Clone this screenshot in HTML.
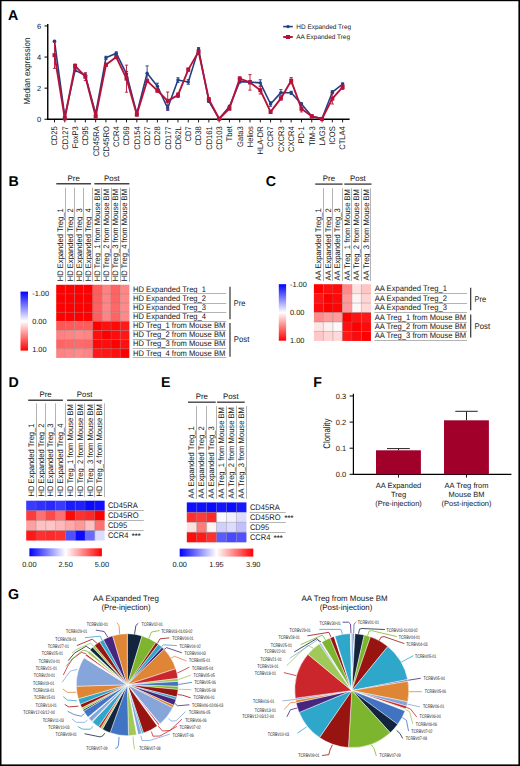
<!DOCTYPE html>
<html><head><meta charset="utf-8"><title>Figure</title><style>
html,body{margin:0;padding:0;background:#fff;}
svg{display:block;font-family:"Liberation Sans", sans-serif;text-rendering:geometricPrecision;}

</style></head><body>
<svg width="520" height="766" viewBox="0 0 520 766">
<rect width="520" height="766" fill="#fff"/>
<rect x="0" y="0" width="520" height="1.2" fill="#000"/>
<rect x="0" y="0" width="1.5" height="766" fill="#000"/>
<rect x="518.4" y="0" width="1.6" height="766" fill="#000"/>
<rect x="0" y="764.4" width="520" height="1.6" fill="#000"/>
<text x="8.1" y="19.6" font-size="14.2" font-weight="bold" fill="#000">A</text>
<line x1="47.75" y1="23.9" x2="47.75" y2="120.0" stroke="#000" stroke-width="1.4"/>
<line x1="47.05" y1="119.25" x2="349.6" y2="119.25" stroke="#000" stroke-width="1.5"/>
<line x1="44.5" y1="119.25" x2="47.75" y2="119.25" stroke="#000" stroke-width="1"/>
<text x="41.2" y="121.85" font-size="7.5" text-anchor="end" fill="#151515">0</text>
<line x1="44.5" y1="88.15" x2="47.75" y2="88.15" stroke="#000" stroke-width="1"/>
<text x="41.2" y="90.75" font-size="7.5" text-anchor="end" fill="#151515">2</text>
<line x1="44.5" y1="57.05" x2="47.75" y2="57.05" stroke="#000" stroke-width="1"/>
<text x="41.2" y="59.65" font-size="7.5" text-anchor="end" fill="#151515">4</text>
<line x1="44.5" y1="25.95" x2="47.75" y2="25.95" stroke="#000" stroke-width="1"/>
<text x="41.2" y="28.55" font-size="7.5" text-anchor="end" fill="#151515">6</text>
<text transform="translate(29.9,71) rotate(-90)" font-size="8.9" text-anchor="middle" fill="#151515" textLength="66.8" lengthAdjust="spacingAndGlyphs">Median expression</text>
<line x1="54.50" y1="119.25" x2="54.50" y2="122.4" stroke="#000" stroke-width="0.9"/>
<text transform="translate(57.35,126.2) rotate(-90)" font-size="8.2" text-anchor="end" fill="#151515" textLength="19.43" lengthAdjust="spacingAndGlyphs">CD25</text>
<line x1="64.79" y1="119.25" x2="64.79" y2="122.4" stroke="#000" stroke-width="0.9"/>
<text transform="translate(67.64,126.2) rotate(-90)" font-size="8.2" text-anchor="end" fill="#151515" textLength="23.66" lengthAdjust="spacingAndGlyphs">CD127</text>
<line x1="75.08" y1="119.25" x2="75.08" y2="122.4" stroke="#000" stroke-width="0.9"/>
<text transform="translate(77.93,126.2) rotate(-90)" font-size="8.2" text-anchor="end" fill="#151515" textLength="21.97" lengthAdjust="spacingAndGlyphs">FoxP3</text>
<line x1="85.37" y1="119.25" x2="85.37" y2="122.4" stroke="#000" stroke-width="0.9"/>
<text transform="translate(88.22,126.2) rotate(-90)" font-size="8.2" text-anchor="end" fill="#151515" textLength="19.43" lengthAdjust="spacingAndGlyphs">CD95</text>
<line x1="95.66" y1="119.25" x2="95.66" y2="122.4" stroke="#000" stroke-width="0.9"/>
<text transform="translate(98.51,126.2) rotate(-90)" font-size="8.2" text-anchor="end" fill="#151515" textLength="29.99" lengthAdjust="spacingAndGlyphs">CD45RA</text>
<line x1="105.95" y1="119.25" x2="105.95" y2="122.4" stroke="#000" stroke-width="0.9"/>
<text transform="translate(108.80,126.2) rotate(-90)" font-size="8.2" text-anchor="end" fill="#151515" textLength="30.83" lengthAdjust="spacingAndGlyphs">CD45RO</text>
<line x1="116.24" y1="119.25" x2="116.24" y2="122.4" stroke="#000" stroke-width="0.9"/>
<text transform="translate(119.09,126.2) rotate(-90)" font-size="8.2" text-anchor="end" fill="#151515" textLength="20.69" lengthAdjust="spacingAndGlyphs">CCR4</text>
<line x1="126.53" y1="119.25" x2="126.53" y2="122.4" stroke="#000" stroke-width="0.9"/>
<text transform="translate(129.38,126.2) rotate(-90)" font-size="8.2" text-anchor="end" fill="#151515" textLength="19.43" lengthAdjust="spacingAndGlyphs">CD69</text>
<line x1="136.82" y1="119.25" x2="136.82" y2="122.4" stroke="#000" stroke-width="0.9"/>
<text transform="translate(139.67,126.2) rotate(-90)" font-size="8.2" text-anchor="end" fill="#151515" textLength="23.66" lengthAdjust="spacingAndGlyphs">CD154</text>
<line x1="147.11" y1="119.25" x2="147.11" y2="122.4" stroke="#000" stroke-width="0.9"/>
<text transform="translate(149.96,126.2) rotate(-90)" font-size="8.2" text-anchor="end" fill="#151515" textLength="19.43" lengthAdjust="spacingAndGlyphs">CD27</text>
<line x1="157.40" y1="119.25" x2="157.40" y2="122.4" stroke="#000" stroke-width="0.9"/>
<text transform="translate(160.25,126.2) rotate(-90)" font-size="8.2" text-anchor="end" fill="#151515" textLength="19.43" lengthAdjust="spacingAndGlyphs">CD28</text>
<line x1="167.69" y1="119.25" x2="167.69" y2="122.4" stroke="#000" stroke-width="0.9"/>
<text transform="translate(170.54,126.2) rotate(-90)" font-size="8.2" text-anchor="end" fill="#151515" textLength="23.66" lengthAdjust="spacingAndGlyphs">CD177</text>
<line x1="177.98" y1="119.25" x2="177.98" y2="122.4" stroke="#000" stroke-width="0.9"/>
<text transform="translate(180.83,126.2) rotate(-90)" font-size="8.2" text-anchor="end" fill="#151515" textLength="23.66" lengthAdjust="spacingAndGlyphs">CD62L</text>
<line x1="188.27" y1="119.25" x2="188.27" y2="122.4" stroke="#000" stroke-width="0.9"/>
<text transform="translate(191.12,126.2) rotate(-90)" font-size="8.2" text-anchor="end" fill="#151515" textLength="15.20" lengthAdjust="spacingAndGlyphs">CD7</text>
<line x1="198.56" y1="119.25" x2="198.56" y2="122.4" stroke="#000" stroke-width="0.9"/>
<text transform="translate(201.41,126.2) rotate(-90)" font-size="8.2" text-anchor="end" fill="#151515" textLength="19.43" lengthAdjust="spacingAndGlyphs">CD38</text>
<line x1="208.85" y1="119.25" x2="208.85" y2="122.4" stroke="#000" stroke-width="0.9"/>
<text transform="translate(211.70,126.2) rotate(-90)" font-size="8.2" text-anchor="end" fill="#151515" textLength="23.66" lengthAdjust="spacingAndGlyphs">CD161</text>
<line x1="219.14" y1="119.25" x2="219.14" y2="122.4" stroke="#000" stroke-width="0.9"/>
<text transform="translate(221.99,126.2) rotate(-90)" font-size="8.2" text-anchor="end" fill="#151515" textLength="23.66" lengthAdjust="spacingAndGlyphs">CD103</text>
<line x1="229.43" y1="119.25" x2="229.43" y2="122.4" stroke="#000" stroke-width="0.9"/>
<text transform="translate(232.28,126.2) rotate(-90)" font-size="8.2" text-anchor="end" fill="#151515" textLength="15.21" lengthAdjust="spacingAndGlyphs">Tbet</text>
<line x1="239.72" y1="119.25" x2="239.72" y2="122.4" stroke="#000" stroke-width="0.9"/>
<text transform="translate(242.57,126.2) rotate(-90)" font-size="8.2" text-anchor="end" fill="#151515" textLength="20.70" lengthAdjust="spacingAndGlyphs">Gata3</text>
<line x1="250.01" y1="119.25" x2="250.01" y2="122.4" stroke="#000" stroke-width="0.9"/>
<text transform="translate(252.86,126.2) rotate(-90)" font-size="8.2" text-anchor="end" fill="#151515" textLength="21.12" lengthAdjust="spacingAndGlyphs">Helios</text>
<line x1="260.30" y1="119.25" x2="260.30" y2="122.4" stroke="#000" stroke-width="0.9"/>
<text transform="translate(263.15,126.2) rotate(-90)" font-size="8.2" text-anchor="end" fill="#151515" textLength="28.29" lengthAdjust="spacingAndGlyphs">HLA-DR</text>
<line x1="270.59" y1="119.25" x2="270.59" y2="122.4" stroke="#000" stroke-width="0.9"/>
<text transform="translate(273.44,126.2) rotate(-90)" font-size="8.2" text-anchor="end" fill="#151515" textLength="20.69" lengthAdjust="spacingAndGlyphs">CCR7</text>
<line x1="280.88" y1="119.25" x2="280.88" y2="122.4" stroke="#000" stroke-width="0.9"/>
<text transform="translate(283.73,126.2) rotate(-90)" font-size="8.2" text-anchor="end" fill="#151515" textLength="25.76" lengthAdjust="spacingAndGlyphs">CXCR3</text>
<line x1="291.17" y1="119.25" x2="291.17" y2="122.4" stroke="#000" stroke-width="0.9"/>
<text transform="translate(294.02,126.2) rotate(-90)" font-size="8.2" text-anchor="end" fill="#151515" textLength="25.76" lengthAdjust="spacingAndGlyphs">CXCR4</text>
<line x1="301.46" y1="119.25" x2="301.46" y2="122.4" stroke="#000" stroke-width="0.9"/>
<text transform="translate(304.31,126.2) rotate(-90)" font-size="8.2" text-anchor="end" fill="#151515" textLength="17.32" lengthAdjust="spacingAndGlyphs">PD-1</text>
<line x1="311.75" y1="119.25" x2="311.75" y2="122.4" stroke="#000" stroke-width="0.9"/>
<text transform="translate(314.60,126.2) rotate(-90)" font-size="8.2" text-anchor="end" fill="#151515" textLength="19.84" lengthAdjust="spacingAndGlyphs">TIM-3</text>
<line x1="322.04" y1="119.25" x2="322.04" y2="122.4" stroke="#000" stroke-width="0.9"/>
<text transform="translate(324.89,126.2) rotate(-90)" font-size="8.2" text-anchor="end" fill="#151515" textLength="19.43" lengthAdjust="spacingAndGlyphs">LAG3</text>
<line x1="332.33" y1="119.25" x2="332.33" y2="122.4" stroke="#000" stroke-width="0.9"/>
<text transform="translate(335.18,126.2) rotate(-90)" font-size="8.2" text-anchor="end" fill="#151515" textLength="18.58" lengthAdjust="spacingAndGlyphs">ICOS</text>
<line x1="342.62" y1="119.25" x2="342.62" y2="122.4" stroke="#000" stroke-width="0.9"/>
<text transform="translate(345.47,126.2) rotate(-90)" font-size="8.2" text-anchor="end" fill="#151515" textLength="23.65" lengthAdjust="spacingAndGlyphs">CTLA4</text>
<path d="M54.50 40.41V41.97M52.90 40.41H56.10M52.90 41.97H56.10" stroke="#223f86" stroke-width="0.9" fill="none"/>
<path d="M64.79 115.05V118.16M63.19 115.05H66.39M63.19 118.16H66.39" stroke="#223f86" stroke-width="0.9" fill="none"/>
<path d="M75.08 68.56V71.67M73.48 68.56H76.68M73.48 71.67H76.68" stroke="#223f86" stroke-width="0.9" fill="none"/>
<path d="M85.37 73.22V77.89M83.77 73.22H86.97M83.77 77.89H86.97" stroke="#223f86" stroke-width="0.9" fill="none"/>
<path d="M95.66 112.25V115.36M94.06 112.25H97.26M94.06 115.36H97.26" stroke="#223f86" stroke-width="0.9" fill="none"/>
<path d="M105.95 56.27V59.38M104.35 56.27H107.55M104.35 59.38H107.55" stroke="#223f86" stroke-width="0.9" fill="none"/>
<path d="M116.24 51.92V54.41M114.64 51.92H117.84M114.64 54.41H117.84" stroke="#223f86" stroke-width="0.9" fill="none"/>
<path d="M126.53 71.51V76.18M124.93 71.51H128.13M124.93 76.18H128.13" stroke="#223f86" stroke-width="0.9" fill="none"/>
<path d="M136.82 113.03V114.58M135.22 113.03H138.42M135.22 114.58H138.42" stroke="#223f86" stroke-width="0.9" fill="none"/>
<path d="M147.11 65.91V80.53M145.51 65.91H148.71M145.51 80.53H148.71" stroke="#223f86" stroke-width="0.9" fill="none"/>
<path d="M157.40 83.17V89.39M155.80 83.17H159.00M155.80 89.39H159.00" stroke="#223f86" stroke-width="0.9" fill="none"/>
<path d="M167.69 105.72V110.39M166.09 105.72H169.29M166.09 110.39H169.29" stroke="#223f86" stroke-width="0.9" fill="none"/>
<path d="M177.98 77.73V82.40M176.38 77.73H179.58M176.38 82.40H179.58" stroke="#223f86" stroke-width="0.9" fill="none"/>
<path d="M188.27 79.60V84.26M186.67 79.60H189.87M186.67 84.26H189.87" stroke="#223f86" stroke-width="0.9" fill="none"/>
<path d="M198.56 47.56V50.67M196.96 47.56H200.16M196.96 50.67H200.16" stroke="#223f86" stroke-width="0.9" fill="none"/>
<path d="M208.85 99.97V102.46M207.25 99.97H210.45M207.25 102.46H210.45" stroke="#223f86" stroke-width="0.9" fill="none"/>
<path d="M219.14 118.32V119.25M217.54 118.32H220.74M217.54 119.25H220.74" stroke="#223f86" stroke-width="0.9" fill="none"/>
<path d="M229.43 105.25V107.74M227.83 105.25H231.03M227.83 107.74H231.03" stroke="#223f86" stroke-width="0.9" fill="none"/>
<path d="M239.72 80.06V83.17M238.12 80.06H241.32M238.12 83.17H241.32" stroke="#223f86" stroke-width="0.9" fill="none"/>
<path d="M250.01 80.53V83.64M248.41 80.53H251.61M248.41 83.64H251.61" stroke="#223f86" stroke-width="0.9" fill="none"/>
<path d="M260.30 79.75V85.97M258.70 79.75H261.90M258.70 85.97H261.90" stroke="#223f86" stroke-width="0.9" fill="none"/>
<path d="M270.59 101.68V106.34M268.99 101.68H272.19M268.99 106.34H272.19" stroke="#223f86" stroke-width="0.9" fill="none"/>
<path d="M280.88 89.55V95.77M279.28 89.55H282.48M279.28 95.77H282.48" stroke="#223f86" stroke-width="0.9" fill="none"/>
<path d="M291.17 91.26V94.37M289.57 91.26H292.77M289.57 94.37H292.77" stroke="#223f86" stroke-width="0.9" fill="none"/>
<path d="M301.46 102.77V105.25M299.86 102.77H303.06M299.86 105.25H303.06" stroke="#223f86" stroke-width="0.9" fill="none"/>
<path d="M311.75 115.52V117.07M310.15 115.52H313.35M310.15 117.07H313.35" stroke="#223f86" stroke-width="0.9" fill="none"/>
<path d="M322.04 118.01V118.94M320.44 118.01H323.64M320.44 118.94H323.64" stroke="#223f86" stroke-width="0.9" fill="none"/>
<path d="M332.33 90.64V93.75M330.73 90.64H333.93M330.73 93.75H333.93" stroke="#223f86" stroke-width="0.9" fill="none"/>
<path d="M342.62 82.86V85.35M341.02 82.86H344.22M341.02 85.35H344.22" stroke="#223f86" stroke-width="0.9" fill="none"/>
<polyline points="54.50,41.19 64.79,116.61 75.08,70.11 85.37,75.55 95.66,113.81 105.95,57.83 116.24,53.16 126.53,73.84 136.82,113.81 147.11,73.22 157.40,86.28 167.69,108.05 177.98,80.06 188.27,81.93 198.56,49.12 208.85,101.21 219.14,118.78 229.43,106.50 239.72,81.62 250.01,82.09 260.30,82.86 270.59,104.01 280.88,92.66 291.17,92.81 301.46,104.01 311.75,116.30 322.04,118.47 332.33,92.19 342.62,84.11" fill="none" stroke="#223f86" stroke-width="1.6" stroke-linejoin="round"/>
<circle cx="54.50" cy="41.19" r="1.7" fill="#223f86"/>
<circle cx="64.79" cy="116.61" r="1.7" fill="#223f86"/>
<circle cx="75.08" cy="70.11" r="1.7" fill="#223f86"/>
<circle cx="85.37" cy="75.55" r="1.7" fill="#223f86"/>
<circle cx="95.66" cy="113.81" r="1.7" fill="#223f86"/>
<circle cx="105.95" cy="57.83" r="1.7" fill="#223f86"/>
<circle cx="116.24" cy="53.16" r="1.7" fill="#223f86"/>
<circle cx="126.53" cy="73.84" r="1.7" fill="#223f86"/>
<circle cx="136.82" cy="113.81" r="1.7" fill="#223f86"/>
<circle cx="147.11" cy="73.22" r="1.7" fill="#223f86"/>
<circle cx="157.40" cy="86.28" r="1.7" fill="#223f86"/>
<circle cx="167.69" cy="108.05" r="1.7" fill="#223f86"/>
<circle cx="177.98" cy="80.06" r="1.7" fill="#223f86"/>
<circle cx="188.27" cy="81.93" r="1.7" fill="#223f86"/>
<circle cx="198.56" cy="49.12" r="1.7" fill="#223f86"/>
<circle cx="208.85" cy="101.21" r="1.7" fill="#223f86"/>
<circle cx="219.14" cy="118.78" r="1.7" fill="#223f86"/>
<circle cx="229.43" cy="106.50" r="1.7" fill="#223f86"/>
<circle cx="239.72" cy="81.62" r="1.7" fill="#223f86"/>
<circle cx="250.01" cy="82.09" r="1.7" fill="#223f86"/>
<circle cx="260.30" cy="82.86" r="1.7" fill="#223f86"/>
<circle cx="270.59" cy="104.01" r="1.7" fill="#223f86"/>
<circle cx="280.88" cy="92.66" r="1.7" fill="#223f86"/>
<circle cx="291.17" cy="92.81" r="1.7" fill="#223f86"/>
<circle cx="301.46" cy="104.01" r="1.7" fill="#223f86"/>
<circle cx="311.75" cy="116.30" r="1.7" fill="#223f86"/>
<circle cx="322.04" cy="118.47" r="1.7" fill="#223f86"/>
<circle cx="332.33" cy="92.19" r="1.7" fill="#223f86"/>
<circle cx="342.62" cy="84.11" r="1.7" fill="#223f86"/>
<path d="M54.50 41.97V68.40M52.90 41.97H56.10M52.90 68.40H56.10" stroke="#b5123a" stroke-width="0.9" fill="none"/>
<path d="M64.79 116.92V119.25M63.19 116.92H66.39M63.19 119.25H66.39" stroke="#b5123a" stroke-width="0.9" fill="none"/>
<path d="M75.08 64.05V67.78M73.48 64.05H76.68M73.48 67.78H76.68" stroke="#b5123a" stroke-width="0.9" fill="none"/>
<path d="M85.37 72.76V80.53M83.77 72.76H86.97M83.77 80.53H86.97" stroke="#b5123a" stroke-width="0.9" fill="none"/>
<path d="M95.66 114.74V117.85M94.06 114.74H97.26M94.06 117.85H97.26" stroke="#b5123a" stroke-width="0.9" fill="none"/>
<path d="M105.95 63.27V66.38M104.35 63.27H107.55M104.35 66.38H107.55" stroke="#b5123a" stroke-width="0.9" fill="none"/>
<path d="M116.24 55.50V58.60M114.64 55.50H117.84M114.64 58.60H117.84" stroke="#b5123a" stroke-width="0.9" fill="none"/>
<path d="M126.53 65.14V92.19M124.93 65.14H128.13M124.93 92.19H128.13" stroke="#b5123a" stroke-width="0.9" fill="none"/>
<path d="M136.82 113.03V116.14M135.22 113.03H138.42M135.22 116.14H138.42" stroke="#b5123a" stroke-width="0.9" fill="none"/>
<path d="M147.11 79.29V82.40M145.51 79.29H148.71M145.51 82.40H148.71" stroke="#b5123a" stroke-width="0.9" fill="none"/>
<path d="M157.40 89.08V92.19M155.80 89.08H159.00M155.80 92.19H159.00" stroke="#b5123a" stroke-width="0.9" fill="none"/>
<path d="M167.69 92.04V109.76M166.09 92.04H169.29M166.09 109.76H169.29" stroke="#b5123a" stroke-width="0.9" fill="none"/>
<path d="M177.98 92.81V97.48M176.38 92.81H179.58M176.38 97.48H179.58" stroke="#b5123a" stroke-width="0.9" fill="none"/>
<path d="M188.27 68.09V71.20M186.67 68.09H189.87M186.67 71.20H189.87" stroke="#b5123a" stroke-width="0.9" fill="none"/>
<path d="M198.56 50.05V53.16M196.96 50.05H200.16M196.96 53.16H200.16" stroke="#b5123a" stroke-width="0.9" fill="none"/>
<path d="M208.85 97.79V100.90M207.25 97.79H210.45M207.25 100.90H210.45" stroke="#b5123a" stroke-width="0.9" fill="none"/>
<path d="M219.14 118.32V119.25M217.54 118.32H220.74M217.54 119.25H220.74" stroke="#b5123a" stroke-width="0.9" fill="none"/>
<path d="M229.43 106.97V110.08M227.83 106.97H231.03M227.83 110.08H231.03" stroke="#b5123a" stroke-width="0.9" fill="none"/>
<path d="M239.72 76.80V80.53M238.12 76.80H241.32M238.12 80.53H241.32" stroke="#b5123a" stroke-width="0.9" fill="none"/>
<path d="M250.01 74.62V90.17M248.41 74.62H251.61M248.41 90.17H251.61" stroke="#b5123a" stroke-width="0.9" fill="none"/>
<path d="M260.30 86.28V94.06M258.70 86.28H261.90M258.70 94.06H261.90" stroke="#b5123a" stroke-width="0.9" fill="none"/>
<path d="M270.59 110.39V113.50M268.99 110.39H272.19M268.99 113.50H272.19" stroke="#b5123a" stroke-width="0.9" fill="none"/>
<path d="M280.88 96.86V99.97M279.28 96.86H282.48M279.28 99.97H282.48" stroke="#b5123a" stroke-width="0.9" fill="none"/>
<path d="M291.17 77.58V83.80M289.57 77.58H292.77M289.57 83.80H292.77" stroke="#b5123a" stroke-width="0.9" fill="none"/>
<path d="M301.46 105.72V111.94M299.86 105.72H303.06M299.86 111.94H303.06" stroke="#b5123a" stroke-width="0.9" fill="none"/>
<path d="M311.75 114.74V117.85M310.15 114.74H313.35M310.15 117.85H313.35" stroke="#b5123a" stroke-width="0.9" fill="none"/>
<path d="M322.04 118.47V119.25M320.44 118.47H323.64M320.44 119.25H323.64" stroke="#b5123a" stroke-width="0.9" fill="none"/>
<path d="M332.33 93.13V104.01M330.73 93.13H333.93M330.73 104.01H333.93" stroke="#b5123a" stroke-width="0.9" fill="none"/>
<path d="M342.62 84.73V89.39M341.02 84.73H344.22M341.02 89.39H344.22" stroke="#b5123a" stroke-width="0.9" fill="none"/>
<polyline points="54.50,55.18 64.79,118.47 75.08,65.91 85.37,76.64 95.66,116.30 105.95,64.82 116.24,57.05 126.53,78.66 136.82,114.58 147.11,80.84 157.40,90.64 167.69,100.90 177.98,95.15 188.27,69.65 198.56,51.61 208.85,99.35 219.14,118.78 229.43,108.52 239.72,78.66 250.01,82.40 260.30,90.17 270.59,111.94 280.88,98.41 291.17,80.69 301.46,108.83 311.75,116.30 322.04,118.94 332.33,98.57 342.62,87.06" fill="none" stroke="#b5123a" stroke-width="1.9" stroke-linejoin="round"/>
<rect x="52.50" y="53.18" width="4" height="4" fill="#b5123a"/>
<rect x="62.79" y="116.47" width="4" height="4" fill="#b5123a"/>
<rect x="73.08" y="63.91" width="4" height="4" fill="#b5123a"/>
<rect x="83.37" y="74.64" width="4" height="4" fill="#b5123a"/>
<rect x="93.66" y="114.30" width="4" height="4" fill="#b5123a"/>
<rect x="103.95" y="62.82" width="4" height="4" fill="#b5123a"/>
<rect x="114.24" y="55.05" width="4" height="4" fill="#b5123a"/>
<rect x="124.53" y="76.66" width="4" height="4" fill="#b5123a"/>
<rect x="134.82" y="112.58" width="4" height="4" fill="#b5123a"/>
<rect x="145.11" y="78.84" width="4" height="4" fill="#b5123a"/>
<rect x="155.40" y="88.64" width="4" height="4" fill="#b5123a"/>
<rect x="165.69" y="98.90" width="4" height="4" fill="#b5123a"/>
<rect x="175.98" y="93.15" width="4" height="4" fill="#b5123a"/>
<rect x="186.27" y="67.65" width="4" height="4" fill="#b5123a"/>
<rect x="196.56" y="49.61" width="4" height="4" fill="#b5123a"/>
<rect x="206.85" y="97.35" width="4" height="4" fill="#b5123a"/>
<rect x="217.14" y="116.78" width="4" height="4" fill="#b5123a"/>
<rect x="227.43" y="106.52" width="4" height="4" fill="#b5123a"/>
<rect x="237.72" y="76.66" width="4" height="4" fill="#b5123a"/>
<rect x="248.01" y="80.40" width="4" height="4" fill="#b5123a"/>
<rect x="258.30" y="88.17" width="4" height="4" fill="#b5123a"/>
<rect x="268.59" y="109.94" width="4" height="4" fill="#b5123a"/>
<rect x="278.88" y="96.41" width="4" height="4" fill="#b5123a"/>
<rect x="289.17" y="78.69" width="4" height="4" fill="#b5123a"/>
<rect x="299.46" y="106.83" width="4" height="4" fill="#b5123a"/>
<rect x="309.75" y="114.30" width="4" height="4" fill="#b5123a"/>
<rect x="320.04" y="116.94" width="4" height="4" fill="#b5123a"/>
<rect x="330.33" y="96.57" width="4" height="4" fill="#b5123a"/>
<rect x="340.62" y="85.06" width="4" height="4" fill="#b5123a"/>
<line x1="283.2" y1="26.6" x2="292.8" y2="26.6" stroke="#223f86" stroke-width="1.6"/><circle cx="288" cy="26.6" r="1.7" fill="#223f86"/>
<text x="296.3" y="28.9" font-size="6.45" fill="#151515">HD Expanded Treg</text>
<line x1="283.2" y1="37" x2="292.8" y2="37" stroke="#b5123a" stroke-width="1.9"/><rect x="286" y="35" width="4" height="4" fill="#b5123a"/>
<text x="296.3" y="39.3" font-size="6.45" fill="#151515">AA Expanded Treg</text>
<text x="8.6" y="185.8" font-size="14.2" font-weight="bold" fill="#000">B</text>
<text transform="translate(63.37,281.3) rotate(-90)" font-size="8.1" fill="#151515" textLength="73.03" lengthAdjust="spacingAndGlyphs">HD Expanded Treg_1</text>
<line x1="65.50" y1="187.7" x2="65.50" y2="281.8" stroke="#b4b4b4" stroke-width="1"/>
<text transform="translate(72.51,281.3) rotate(-90)" font-size="8.1" fill="#151515" textLength="73.03" lengthAdjust="spacingAndGlyphs">HD Expanded Treg_2</text>
<line x1="74.50" y1="187.7" x2="74.50" y2="281.8" stroke="#b4b4b4" stroke-width="1"/>
<text transform="translate(81.65,281.3) rotate(-90)" font-size="8.1" fill="#151515" textLength="73.03" lengthAdjust="spacingAndGlyphs">HD Expanded Treg_3</text>
<line x1="83.50" y1="187.7" x2="83.50" y2="281.8" stroke="#b4b4b4" stroke-width="1"/>
<text transform="translate(90.79,281.3) rotate(-90)" font-size="8.1" fill="#151515" textLength="73.03" lengthAdjust="spacingAndGlyphs">HD Expanded Treg_4</text>
<line x1="92.50" y1="187.7" x2="92.50" y2="281.8" stroke="#b4b4b4" stroke-width="1"/>
<text transform="translate(99.93,281.3) rotate(-90)" font-size="8.1" fill="#151515" textLength="92.30" lengthAdjust="spacingAndGlyphs">HD Treg_1 from Mouse BM</text>
<line x1="101.50" y1="187.7" x2="101.50" y2="281.8" stroke="#b4b4b4" stroke-width="1"/>
<text transform="translate(109.07,281.3) rotate(-90)" font-size="8.1" fill="#151515" textLength="92.30" lengthAdjust="spacingAndGlyphs">HD Treg_2 from Mouse BM</text>
<line x1="111.50" y1="187.7" x2="111.50" y2="281.8" stroke="#b4b4b4" stroke-width="1"/>
<text transform="translate(118.21,281.3) rotate(-90)" font-size="8.1" fill="#151515" textLength="92.30" lengthAdjust="spacingAndGlyphs">HD Treg_3 from Mouse BM</text>
<line x1="120.50" y1="187.7" x2="120.50" y2="281.8" stroke="#b4b4b4" stroke-width="1"/>
<text transform="translate(127.35,281.3) rotate(-90)" font-size="8.1" fill="#151515" textLength="92.30" lengthAdjust="spacingAndGlyphs">HD Treg_4 from Mouse BM</text>
<line x1="129.50" y1="187.7" x2="129.50" y2="281.8" stroke="#b4b4b4" stroke-width="1"/>
<line x1="56.30" y1="183.8" x2="91.00" y2="183.8" stroke="#444" stroke-width="1.4"/>
<line x1="94.40" y1="183.8" x2="129.40" y2="183.8" stroke="#444" stroke-width="1.4"/>
<text x="73.65" y="180.6" font-size="7.85" text-anchor="middle" fill="#151515">Pre</text>
<text x="111.90" y="180.6" font-size="7.85" text-anchor="middle" fill="#151515">Post</text>
<rect x="56.20" y="284.75" width="9.19" height="9.19" fill="#ff0000"/>
<rect x="65.34" y="284.75" width="9.19" height="9.19" fill="#ff0000"/>
<rect x="74.48" y="284.75" width="9.19" height="9.19" fill="#ff0000"/>
<rect x="83.62" y="284.75" width="9.19" height="9.19" fill="#ff0000"/>
<rect x="92.76" y="284.75" width="9.19" height="9.19" fill="#ff5c5c"/>
<rect x="101.90" y="284.75" width="9.19" height="9.19" fill="#ff8282"/>
<rect x="111.04" y="284.75" width="9.19" height="9.19" fill="#ff6262"/>
<rect x="120.18" y="284.75" width="9.19" height="9.19" fill="#ff8686"/>
<rect x="56.20" y="293.89" width="9.19" height="9.19" fill="#ff0000"/>
<rect x="65.34" y="293.89" width="9.19" height="9.19" fill="#ff0000"/>
<rect x="74.48" y="293.89" width="9.19" height="9.19" fill="#ff0000"/>
<rect x="83.62" y="293.89" width="9.19" height="9.19" fill="#ff0000"/>
<rect x="92.76" y="293.89" width="9.19" height="9.19" fill="#ff5e5e"/>
<rect x="101.90" y="293.89" width="9.19" height="9.19" fill="#ff8484"/>
<rect x="111.04" y="293.89" width="9.19" height="9.19" fill="#ff6464"/>
<rect x="120.18" y="293.89" width="9.19" height="9.19" fill="#ff8888"/>
<rect x="56.20" y="303.03" width="9.19" height="9.19" fill="#ff0000"/>
<rect x="65.34" y="303.03" width="9.19" height="9.19" fill="#ff0000"/>
<rect x="74.48" y="303.03" width="9.19" height="9.19" fill="#ff0000"/>
<rect x="83.62" y="303.03" width="9.19" height="9.19" fill="#ff0000"/>
<rect x="92.76" y="303.03" width="9.19" height="9.19" fill="#ff6060"/>
<rect x="101.90" y="303.03" width="9.19" height="9.19" fill="#ff8686"/>
<rect x="111.04" y="303.03" width="9.19" height="9.19" fill="#ff6868"/>
<rect x="120.18" y="303.03" width="9.19" height="9.19" fill="#ff8a8a"/>
<rect x="56.20" y="312.17" width="9.19" height="9.19" fill="#ff0000"/>
<rect x="65.34" y="312.17" width="9.19" height="9.19" fill="#ff0000"/>
<rect x="74.48" y="312.17" width="9.19" height="9.19" fill="#ff0000"/>
<rect x="83.62" y="312.17" width="9.19" height="9.19" fill="#ff0000"/>
<rect x="92.76" y="312.17" width="9.19" height="9.19" fill="#ff5e5e"/>
<rect x="101.90" y="312.17" width="9.19" height="9.19" fill="#ff8484"/>
<rect x="111.04" y="312.17" width="9.19" height="9.19" fill="#ff6464"/>
<rect x="120.18" y="312.17" width="9.19" height="9.19" fill="#ff8888"/>
<rect x="56.20" y="321.31" width="9.19" height="9.19" fill="#ff5656"/>
<rect x="65.34" y="321.31" width="9.19" height="9.19" fill="#ff5a5a"/>
<rect x="74.48" y="321.31" width="9.19" height="9.19" fill="#ff5e5e"/>
<rect x="83.62" y="321.31" width="9.19" height="9.19" fill="#ff5c5c"/>
<rect x="92.76" y="321.31" width="9.19" height="9.19" fill="#ff0000"/>
<rect x="101.90" y="321.31" width="9.19" height="9.19" fill="#ff1010"/>
<rect x="111.04" y="321.31" width="9.19" height="9.19" fill="#ff0808"/>
<rect x="120.18" y="321.31" width="9.19" height="9.19" fill="#ff1a1a"/>
<rect x="56.20" y="330.45" width="9.19" height="9.19" fill="#ff8080"/>
<rect x="65.34" y="330.45" width="9.19" height="9.19" fill="#ff8484"/>
<rect x="74.48" y="330.45" width="9.19" height="9.19" fill="#ff8888"/>
<rect x="83.62" y="330.45" width="9.19" height="9.19" fill="#ff8484"/>
<rect x="92.76" y="330.45" width="9.19" height="9.19" fill="#ff1010"/>
<rect x="101.90" y="330.45" width="9.19" height="9.19" fill="#ff0000"/>
<rect x="111.04" y="330.45" width="9.19" height="9.19" fill="#ff0c0c"/>
<rect x="120.18" y="330.45" width="9.19" height="9.19" fill="#ff1616"/>
<rect x="56.20" y="339.59" width="9.19" height="9.19" fill="#ff6464"/>
<rect x="65.34" y="339.59" width="9.19" height="9.19" fill="#ff6868"/>
<rect x="74.48" y="339.59" width="9.19" height="9.19" fill="#ff6a6a"/>
<rect x="83.62" y="339.59" width="9.19" height="9.19" fill="#ff6666"/>
<rect x="92.76" y="339.59" width="9.19" height="9.19" fill="#ff0808"/>
<rect x="101.90" y="339.59" width="9.19" height="9.19" fill="#ff0c0c"/>
<rect x="111.04" y="339.59" width="9.19" height="9.19" fill="#ff0000"/>
<rect x="120.18" y="339.59" width="9.19" height="9.19" fill="#ff1010"/>
<rect x="56.20" y="348.73" width="9.19" height="9.19" fill="#ff8282"/>
<rect x="65.34" y="348.73" width="9.19" height="9.19" fill="#ff8686"/>
<rect x="74.48" y="348.73" width="9.19" height="9.19" fill="#ff8a8a"/>
<rect x="83.62" y="348.73" width="9.19" height="9.19" fill="#ff8686"/>
<rect x="92.76" y="348.73" width="9.19" height="9.19" fill="#ff1a1a"/>
<rect x="101.90" y="348.73" width="9.19" height="9.19" fill="#ff1616"/>
<rect x="111.04" y="348.73" width="9.19" height="9.19" fill="#ff1010"/>
<rect x="120.18" y="348.73" width="9.19" height="9.19" fill="#ff0000"/>
<path d="M65.34 284.75V357.87M74.48 284.75V357.87M83.62 284.75V357.87M92.76 284.75V357.87M101.90 284.75V357.87M111.04 284.75V357.87M120.18 284.75V357.87M56.20 293.89H129.32M56.20 303.03H129.32M56.20 312.17H129.32M56.20 321.31H129.32M56.20 330.45H129.32M56.20 339.59H129.32M56.20 348.73H129.32" stroke="#7a7a7a" stroke-opacity="0.5" stroke-width="0.7" fill="none"/>
<text x="133" y="291.62" font-size="8.1" fill="#151515" textLength="73.03" lengthAdjust="spacingAndGlyphs">HD Expanded Treg_1</text>
<line x1="132.7" y1="293.50" x2="226.3" y2="293.50" stroke="#b4b4b4" stroke-width="1"/>
<text x="133" y="300.76" font-size="8.1" fill="#151515" textLength="73.03" lengthAdjust="spacingAndGlyphs">HD Expanded Treg_2</text>
<line x1="132.7" y1="303.50" x2="226.3" y2="303.50" stroke="#b4b4b4" stroke-width="1"/>
<text x="133" y="309.90" font-size="8.1" fill="#151515" textLength="73.03" lengthAdjust="spacingAndGlyphs">HD Expanded Treg_3</text>
<line x1="132.7" y1="312.50" x2="226.3" y2="312.50" stroke="#b4b4b4" stroke-width="1"/>
<text x="133" y="319.04" font-size="8.1" fill="#151515" textLength="73.03" lengthAdjust="spacingAndGlyphs">HD Expanded Treg_4</text>
<line x1="132.7" y1="321.50" x2="226.3" y2="321.50" stroke="#b4b4b4" stroke-width="1"/>
<text x="133" y="328.18" font-size="8.1" fill="#151515" textLength="92.30" lengthAdjust="spacingAndGlyphs">HD Treg_1 from Mouse BM</text>
<line x1="132.7" y1="330.50" x2="226.3" y2="330.50" stroke="#b4b4b4" stroke-width="1"/>
<text x="133" y="337.32" font-size="8.1" fill="#151515" textLength="92.30" lengthAdjust="spacingAndGlyphs">HD Treg_2 from Mouse BM</text>
<line x1="132.7" y1="339.50" x2="226.3" y2="339.50" stroke="#b4b4b4" stroke-width="1"/>
<text x="133" y="346.46" font-size="8.1" fill="#151515" textLength="92.30" lengthAdjust="spacingAndGlyphs">HD Treg_3 from Mouse BM</text>
<line x1="132.7" y1="348.50" x2="226.3" y2="348.50" stroke="#b4b4b4" stroke-width="1"/>
<text x="133" y="355.60" font-size="8.1" fill="#151515" textLength="92.30" lengthAdjust="spacingAndGlyphs">HD Treg_4 from Mouse BM</text>
<line x1="132.7" y1="357.50" x2="226.3" y2="357.50" stroke="#b4b4b4" stroke-width="1"/>
<line x1="230" y1="286.7" x2="230" y2="319.3" stroke="#333" stroke-width="1.2"/>
<line x1="230" y1="323" x2="230" y2="356.8" stroke="#333" stroke-width="1.2"/>
<text x="233.8" y="305.9" font-size="8.3" fill="#151515" textLength="11.5" lengthAdjust="spacingAndGlyphs">Pre</text>
<text x="233.8" y="342.2" font-size="8.3" fill="#151515" textLength="15.5" lengthAdjust="spacingAndGlyphs">Post</text>
<defs><linearGradient id="vg20" x1="0" y1="0" x2="0" y2="1"><stop offset="0" stop-color="#0000ff"/><stop offset="0.5" stop-color="#ffffff"/><stop offset="1" stop-color="#ff0000"/></linearGradient></defs>
<rect x="20.5" y="291.6" width="7.5" height="59" fill="url(#vg20)"/>
<text x="32.2" y="295.60" font-size="7.4" fill="#151515">-1.00</text>
<text x="32.2" y="323.80" font-size="7.4" fill="#151515">0.00</text>
<text x="32.2" y="351.90" font-size="7.4" fill="#151515">1.00</text>
<text x="265.8" y="186.2" font-size="14.2" font-weight="bold" fill="#000">C</text>
<text transform="translate(321.25,280.5) rotate(-90)" font-size="8.1" fill="#151515" textLength="72.19" lengthAdjust="spacingAndGlyphs">AA Expanded Treg_1</text>
<line x1="323.50" y1="188.2" x2="323.50" y2="281.0" stroke="#b4b4b4" stroke-width="1"/>
<text transform="translate(330.75,280.5) rotate(-90)" font-size="8.1" fill="#151515" textLength="72.19" lengthAdjust="spacingAndGlyphs">AA Expanded Treg_2</text>
<line x1="332.50" y1="188.2" x2="332.50" y2="281.0" stroke="#b4b4b4" stroke-width="1"/>
<text transform="translate(340.25,280.5) rotate(-90)" font-size="8.1" fill="#151515" textLength="72.19" lengthAdjust="spacingAndGlyphs">AA Expanded Treg_3</text>
<line x1="342.50" y1="188.2" x2="342.50" y2="281.0" stroke="#b4b4b4" stroke-width="1"/>
<text transform="translate(349.75,280.5) rotate(-90)" font-size="8.1" fill="#151515" textLength="91.47" lengthAdjust="spacingAndGlyphs">AA Treg_1 from Mouse BM</text>
<line x1="351.50" y1="188.2" x2="351.50" y2="281.0" stroke="#b4b4b4" stroke-width="1"/>
<text transform="translate(359.25,280.5) rotate(-90)" font-size="8.1" fill="#151515" textLength="91.47" lengthAdjust="spacingAndGlyphs">AA Treg_2 from Mouse BM</text>
<line x1="361.50" y1="188.2" x2="361.50" y2="281.0" stroke="#b4b4b4" stroke-width="1"/>
<text transform="translate(368.75,280.5) rotate(-90)" font-size="8.1" fill="#151515" textLength="91.47" lengthAdjust="spacingAndGlyphs">AA Treg_3 from Mouse BM</text>
<line x1="370.50" y1="188.2" x2="370.50" y2="281.0" stroke="#b4b4b4" stroke-width="1"/>
<line x1="315.20" y1="184.1" x2="342.60" y2="184.1" stroke="#444" stroke-width="1.4"/>
<line x1="344.30" y1="184.1" x2="371.50" y2="184.1" stroke="#444" stroke-width="1.4"/>
<text x="328.90" y="181" font-size="7.85" text-anchor="middle" fill="#151515">Pre</text>
<text x="357.90" y="181" font-size="7.85" text-anchor="middle" fill="#151515">Post</text>
<rect x="313.90" y="284.20" width="9.55" height="9.50" fill="#ff0000"/>
<rect x="323.40" y="284.20" width="9.55" height="9.50" fill="#ff1010"/>
<rect x="332.90" y="284.20" width="9.55" height="9.50" fill="#ff0a0a"/>
<rect x="342.40" y="284.20" width="9.55" height="9.50" fill="#ff8888"/>
<rect x="351.90" y="284.20" width="9.55" height="9.50" fill="#ffe0e0"/>
<rect x="361.40" y="284.20" width="9.55" height="9.50" fill="#ffc4c4"/>
<rect x="313.90" y="293.65" width="9.55" height="9.50" fill="#ff1414"/>
<rect x="323.40" y="293.65" width="9.55" height="9.50" fill="#ff0000"/>
<rect x="332.90" y="293.65" width="9.55" height="9.50" fill="#ff0808"/>
<rect x="342.40" y="293.65" width="9.55" height="9.50" fill="#ff9898"/>
<rect x="351.90" y="293.65" width="9.55" height="9.50" fill="#fff2f2"/>
<rect x="361.40" y="293.65" width="9.55" height="9.50" fill="#ffd4d4"/>
<rect x="313.90" y="303.10" width="9.55" height="9.50" fill="#ff0a0a"/>
<rect x="323.40" y="303.10" width="9.55" height="9.50" fill="#ff0000"/>
<rect x="332.90" y="303.10" width="9.55" height="9.50" fill="#ff0404"/>
<rect x="342.40" y="303.10" width="9.55" height="9.50" fill="#ff9a9a"/>
<rect x="351.90" y="303.10" width="9.55" height="9.50" fill="#fff6f6"/>
<rect x="361.40" y="303.10" width="9.55" height="9.50" fill="#ffd8d8"/>
<rect x="313.90" y="312.55" width="9.55" height="9.50" fill="#ff8a8a"/>
<rect x="323.40" y="312.55" width="9.55" height="9.50" fill="#ff9a9a"/>
<rect x="332.90" y="312.55" width="9.55" height="9.50" fill="#ff9c9c"/>
<rect x="342.40" y="312.55" width="9.55" height="9.50" fill="#ff0000"/>
<rect x="351.90" y="312.55" width="9.55" height="9.50" fill="#ff1212"/>
<rect x="361.40" y="312.55" width="9.55" height="9.50" fill="#ff1616"/>
<rect x="313.90" y="322.00" width="9.55" height="9.50" fill="#ffe4e4"/>
<rect x="323.40" y="322.00" width="9.55" height="9.50" fill="#fff0f0"/>
<rect x="332.90" y="322.00" width="9.55" height="9.50" fill="#fff8f8"/>
<rect x="342.40" y="322.00" width="9.55" height="9.50" fill="#ff1010"/>
<rect x="351.90" y="322.00" width="9.55" height="9.50" fill="#ff0000"/>
<rect x="361.40" y="322.00" width="9.55" height="9.50" fill="#ff0a0a"/>
<rect x="313.90" y="331.45" width="9.55" height="9.50" fill="#ffc8c8"/>
<rect x="323.40" y="331.45" width="9.55" height="9.50" fill="#ffd4d4"/>
<rect x="332.90" y="331.45" width="9.55" height="9.50" fill="#ffdada"/>
<rect x="342.40" y="331.45" width="9.55" height="9.50" fill="#ff1818"/>
<rect x="351.90" y="331.45" width="9.55" height="9.50" fill="#ff0a0a"/>
<rect x="361.40" y="331.45" width="9.55" height="9.50" fill="#ff0000"/>
<path d="M323.40 284.20V340.90M332.90 284.20V340.90M342.40 284.20V340.90M351.90 284.20V340.90M361.40 284.20V340.90M313.90 293.65H370.90M313.90 303.10H370.90M313.90 312.55H370.90M313.90 322.00H370.90M313.90 331.45H370.90" stroke="#7a7a7a" stroke-opacity="0.5" stroke-width="0.7" fill="none"/>
<text x="374.7" y="291.23" font-size="8.1" fill="#151515" textLength="72.19" lengthAdjust="spacingAndGlyphs">AA Expanded Treg_1</text>
<line x1="374.4" y1="293.50" x2="467" y2="293.50" stroke="#b4b4b4" stroke-width="1"/>
<text x="374.7" y="300.68" font-size="8.1" fill="#151515" textLength="72.19" lengthAdjust="spacingAndGlyphs">AA Expanded Treg_2</text>
<line x1="374.4" y1="303.50" x2="467" y2="303.50" stroke="#b4b4b4" stroke-width="1"/>
<text x="374.7" y="310.12" font-size="8.1" fill="#151515" textLength="72.19" lengthAdjust="spacingAndGlyphs">AA Expanded Treg_3</text>
<line x1="374.4" y1="312.50" x2="467" y2="312.50" stroke="#b4b4b4" stroke-width="1"/>
<text x="374.7" y="319.57" font-size="8.1" fill="#151515" textLength="91.47" lengthAdjust="spacingAndGlyphs">AA Treg_1 from Mouse BM</text>
<line x1="374.4" y1="322.50" x2="467" y2="322.50" stroke="#b4b4b4" stroke-width="1"/>
<text x="374.7" y="329.02" font-size="8.1" fill="#151515" textLength="91.47" lengthAdjust="spacingAndGlyphs">AA Treg_2 from Mouse BM</text>
<line x1="374.4" y1="331.50" x2="467" y2="331.50" stroke="#b4b4b4" stroke-width="1"/>
<text x="374.7" y="338.47" font-size="8.1" fill="#151515" textLength="91.47" lengthAdjust="spacingAndGlyphs">AA Treg_3 from Mouse BM</text>
<line x1="374.4" y1="340.50" x2="467" y2="340.50" stroke="#b4b4b4" stroke-width="1"/>
<line x1="470.7" y1="287.7" x2="470.7" y2="310.3" stroke="#333" stroke-width="1.2"/>
<line x1="470.7" y1="314.5" x2="470.7" y2="337.5" stroke="#333" stroke-width="1.2"/>
<text x="474.6" y="302.1" font-size="8.3" fill="#151515" textLength="11.5" lengthAdjust="spacingAndGlyphs">Pre</text>
<text x="474.6" y="329.4" font-size="8.3" fill="#151515" textLength="15.5" lengthAdjust="spacingAndGlyphs">Post</text>
<defs><linearGradient id="vg278" x1="0" y1="0" x2="0" y2="1"><stop offset="0" stop-color="#0000ff"/><stop offset="0.5" stop-color="#ffffff"/><stop offset="1" stop-color="#ff0000"/></linearGradient></defs>
<rect x="278.8" y="284.2" width="7.3" height="56.5" fill="url(#vg278)"/>
<text x="290" y="287.00" font-size="7.4" fill="#151515">-1.00</text>
<text x="290" y="314.90" font-size="7.4" fill="#151515">0.00</text>
<text x="290" y="343.00" font-size="7.4" fill="#151515">1.00</text>
<text x="8.6" y="386.9" font-size="14.2" font-weight="bold" fill="#000">D</text>
<text transform="translate(33.70,496.5) rotate(-90)" font-size="8.1" fill="#151515" textLength="73.03" lengthAdjust="spacingAndGlyphs">HD Expanded Treg_1</text>
<line x1="36.50" y1="403.4" x2="36.50" y2="497.0" stroke="#b4b4b4" stroke-width="1"/>
<text transform="translate(43.50,496.5) rotate(-90)" font-size="8.1" fill="#151515" textLength="73.03" lengthAdjust="spacingAndGlyphs">HD Expanded Treg_2</text>
<line x1="45.50" y1="403.4" x2="45.50" y2="497.0" stroke="#b4b4b4" stroke-width="1"/>
<text transform="translate(53.30,496.5) rotate(-90)" font-size="8.1" fill="#151515" textLength="73.03" lengthAdjust="spacingAndGlyphs">HD Expanded Treg_3</text>
<line x1="55.50" y1="403.4" x2="55.50" y2="497.0" stroke="#b4b4b4" stroke-width="1"/>
<text transform="translate(63.10,496.5) rotate(-90)" font-size="8.1" fill="#151515" textLength="73.03" lengthAdjust="spacingAndGlyphs">HD Expanded Treg_4</text>
<line x1="65.50" y1="403.4" x2="65.50" y2="497.0" stroke="#b4b4b4" stroke-width="1"/>
<text transform="translate(72.90,496.5) rotate(-90)" font-size="8.1" fill="#151515" textLength="92.30" lengthAdjust="spacingAndGlyphs">HD Treg_1 from Mouse BM</text>
<line x1="75.50" y1="403.4" x2="75.50" y2="497.0" stroke="#b4b4b4" stroke-width="1"/>
<text transform="translate(82.70,496.5) rotate(-90)" font-size="8.1" fill="#151515" textLength="92.30" lengthAdjust="spacingAndGlyphs">HD Treg_2 from Mouse BM</text>
<line x1="84.50" y1="403.4" x2="84.50" y2="497.0" stroke="#b4b4b4" stroke-width="1"/>
<text transform="translate(92.50,496.5) rotate(-90)" font-size="8.1" fill="#151515" textLength="92.30" lengthAdjust="spacingAndGlyphs">HD Treg_3 from Mouse BM</text>
<line x1="94.50" y1="403.4" x2="94.50" y2="497.0" stroke="#b4b4b4" stroke-width="1"/>
<text transform="translate(102.30,496.5) rotate(-90)" font-size="8.1" fill="#151515" textLength="92.30" lengthAdjust="spacingAndGlyphs">HD Treg_4 from Mouse BM</text>
<line x1="104.50" y1="403.4" x2="104.50" y2="497.0" stroke="#b4b4b4" stroke-width="1"/>
<line x1="28.20" y1="400.2" x2="62.90" y2="400.2" stroke="#444" stroke-width="1.4"/>
<line x1="67.10" y1="400.2" x2="102.20" y2="400.2" stroke="#444" stroke-width="1.4"/>
<text x="45.55" y="396.5" font-size="7.85" text-anchor="middle" fill="#151515">Pre</text>
<text x="84.65" y="396.5" font-size="7.85" text-anchor="middle" fill="#151515">Post</text>
<rect x="26.20" y="500.70" width="9.85" height="10.00" fill="#3a3aff"/>
<rect x="36.00" y="500.70" width="9.85" height="10.00" fill="#3030ff"/>
<rect x="45.80" y="500.70" width="9.85" height="10.00" fill="#2828ff"/>
<rect x="55.60" y="500.70" width="9.85" height="10.00" fill="#3a3aff"/>
<rect x="65.40" y="500.70" width="9.85" height="10.00" fill="#1a1aff"/>
<rect x="75.20" y="500.70" width="9.85" height="10.00" fill="#2020ff"/>
<rect x="85.00" y="500.70" width="9.85" height="10.00" fill="#0a0aff"/>
<rect x="94.80" y="500.70" width="9.85" height="10.00" fill="#1010ff"/>
<rect x="26.20" y="510.65" width="9.85" height="10.00" fill="#ff3a3a"/>
<rect x="36.00" y="510.65" width="9.85" height="10.00" fill="#ff7070"/>
<rect x="45.80" y="510.65" width="9.85" height="10.00" fill="#ff4a4a"/>
<rect x="55.60" y="510.65" width="9.85" height="10.00" fill="#ff7070"/>
<rect x="65.40" y="510.65" width="9.85" height="10.00" fill="#ff0808"/>
<rect x="75.20" y="510.65" width="9.85" height="10.00" fill="#ff3030"/>
<rect x="85.00" y="510.65" width="9.85" height="10.00" fill="#ff2828"/>
<rect x="94.80" y="510.65" width="9.85" height="10.00" fill="#ff0000"/>
<rect x="26.20" y="520.60" width="9.85" height="10.00" fill="#ffa0a0"/>
<rect x="36.00" y="520.60" width="9.85" height="10.00" fill="#ffc0c0"/>
<rect x="45.80" y="520.60" width="9.85" height="10.00" fill="#ffc4c4"/>
<rect x="55.60" y="520.60" width="9.85" height="10.00" fill="#ffb8b8"/>
<rect x="65.40" y="520.60" width="9.85" height="10.00" fill="#ffa8a8"/>
<rect x="75.20" y="520.60" width="9.85" height="10.00" fill="#ff9898"/>
<rect x="85.00" y="520.60" width="9.85" height="10.00" fill="#ffc0c0"/>
<rect x="94.80" y="520.60" width="9.85" height="10.00" fill="#ff7070"/>
<rect x="26.20" y="530.55" width="9.85" height="10.00" fill="#ff1818"/>
<rect x="36.00" y="530.55" width="9.85" height="10.00" fill="#ff3030"/>
<rect x="45.80" y="530.55" width="9.85" height="10.00" fill="#ff2a2a"/>
<rect x="55.60" y="530.55" width="9.85" height="10.00" fill="#ff3030"/>
<rect x="65.40" y="530.55" width="9.85" height="10.00" fill="#5050ff"/>
<rect x="75.20" y="530.55" width="9.85" height="10.00" fill="#0a0aff"/>
<rect x="85.00" y="530.55" width="9.85" height="10.00" fill="#6a6aff"/>
<rect x="94.80" y="530.55" width="9.85" height="10.00" fill="#dcdcff"/>
<path d="M36.00 500.70V540.50M45.80 500.70V540.50M55.60 500.70V540.50M65.40 500.70V540.50M75.20 500.70V540.50M85.00 500.70V540.50M94.80 500.70V540.50M26.20 510.65H104.60M26.20 520.60H104.60M26.20 530.55H104.60" stroke="#7a7a7a" stroke-opacity="0.5" stroke-width="0.7" fill="none"/>
<text x="107.9" y="507.98" font-size="8.1" fill="#151515" textLength="29.79" lengthAdjust="spacingAndGlyphs">CD45RA</text>
<line x1="107.60000000000001" y1="510.50" x2="143.8" y2="510.50" stroke="#b4b4b4" stroke-width="1"/>
<text x="107.9" y="517.92" font-size="8.1" fill="#151515" textLength="30.63" lengthAdjust="spacingAndGlyphs">CD45RO</text>
<line x1="107.60000000000001" y1="520.50" x2="143.8" y2="520.50" stroke="#b4b4b4" stroke-width="1"/>
<text x="107.9" y="527.88" font-size="8.1" fill="#151515" textLength="19.30" lengthAdjust="spacingAndGlyphs">CD95</text>
<line x1="107.60000000000001" y1="530.50" x2="143.8" y2="530.50" stroke="#b4b4b4" stroke-width="1"/>
<text x="107.9" y="537.82" font-size="8.1" fill="#151515" textLength="20.56" lengthAdjust="spacingAndGlyphs">CCR4</text>
<text x="131.5" y="538.6" font-size="8.6" fill="#151515" textLength="9.4" lengthAdjust="spacing">***</text>
<defs><linearGradient id="hg29" x1="0" y1="0" x2="1" y2="0"><stop offset="0" stop-color="#0000ff"/><stop offset="0.5" stop-color="#ffffff"/><stop offset="1" stop-color="#ff0000"/></linearGradient></defs>
<rect x="29.4" y="548.3" width="72.5" height="8" fill="url(#hg29)"/>
<text x="29.40" y="567.3" font-size="7.4" text-anchor="middle" fill="#151515">0.00</text>
<text x="65.65" y="567.3" font-size="7.4" text-anchor="middle" fill="#151515">2.50</text>
<text x="101.90" y="567.3" font-size="7.4" text-anchor="middle" fill="#151515">5.00</text>
<text x="160.9" y="386.9" font-size="14.2" font-weight="bold" fill="#000">E</text>
<text transform="translate(194.37,498.5) rotate(-90)" font-size="8.1" fill="#151515" textLength="72.19" lengthAdjust="spacingAndGlyphs">AA Expanded Treg_1</text>
<line x1="196.50" y1="406" x2="196.50" y2="499.0" stroke="#b4b4b4" stroke-width="1"/>
<text transform="translate(204.30,498.5) rotate(-90)" font-size="8.1" fill="#151515" textLength="72.19" lengthAdjust="spacingAndGlyphs">AA Expanded Treg_2</text>
<line x1="206.50" y1="406" x2="206.50" y2="499.0" stroke="#b4b4b4" stroke-width="1"/>
<text transform="translate(214.22,498.5) rotate(-90)" font-size="8.1" fill="#151515" textLength="72.19" lengthAdjust="spacingAndGlyphs">AA Expanded Treg_3</text>
<line x1="216.50" y1="406" x2="216.50" y2="499.0" stroke="#b4b4b4" stroke-width="1"/>
<text transform="translate(224.16,498.5) rotate(-90)" font-size="8.1" fill="#151515" textLength="91.47" lengthAdjust="spacingAndGlyphs">AA Treg_1 from Mouse BM</text>
<line x1="226.50" y1="406" x2="226.50" y2="499.0" stroke="#b4b4b4" stroke-width="1"/>
<text transform="translate(234.09,498.5) rotate(-90)" font-size="8.1" fill="#151515" textLength="91.47" lengthAdjust="spacingAndGlyphs">AA Treg_2 from Mouse BM</text>
<line x1="236.50" y1="406" x2="236.50" y2="499.0" stroke="#b4b4b4" stroke-width="1"/>
<text transform="translate(244.02,498.5) rotate(-90)" font-size="8.1" fill="#151515" textLength="91.47" lengthAdjust="spacingAndGlyphs">AA Treg_3 from Mouse BM</text>
<line x1="246.50" y1="406" x2="246.50" y2="499.0" stroke="#b4b4b4" stroke-width="1"/>
<line x1="188.00" y1="402.2" x2="215.70" y2="402.2" stroke="#444" stroke-width="1.4"/>
<line x1="217.00" y1="402.2" x2="244.70" y2="402.2" stroke="#444" stroke-width="1.4"/>
<text x="201.85" y="398.9" font-size="7.85" text-anchor="middle" fill="#151515">Pre</text>
<text x="230.85" y="398.9" font-size="7.85" text-anchor="middle" fill="#151515">Post</text>
<rect x="186.80" y="502.40" width="9.98" height="10.02" fill="#1010ff"/>
<rect x="196.73" y="502.40" width="9.98" height="10.02" fill="#1010ff"/>
<rect x="206.66" y="502.40" width="9.98" height="10.02" fill="#0a0aff"/>
<rect x="216.59" y="502.40" width="9.98" height="10.02" fill="#1414ff"/>
<rect x="226.52" y="502.40" width="9.98" height="10.02" fill="#0c0cff"/>
<rect x="236.45" y="502.40" width="9.98" height="10.02" fill="#1818ff"/>
<rect x="186.80" y="512.37" width="9.98" height="10.02" fill="#ff3030"/>
<rect x="196.73" y="512.37" width="9.98" height="10.02" fill="#ff3a3a"/>
<rect x="206.66" y="512.37" width="9.98" height="10.02" fill="#ff2a2a"/>
<rect x="216.59" y="512.37" width="9.98" height="10.02" fill="#f8f8ff"/>
<rect x="226.52" y="512.37" width="9.98" height="10.02" fill="#f0f0ff"/>
<rect x="236.45" y="512.37" width="9.98" height="10.02" fill="#dcdcff"/>
<rect x="186.80" y="522.34" width="9.98" height="10.02" fill="#ffe0e0"/>
<rect x="196.73" y="522.34" width="9.98" height="10.02" fill="#ff7a7a"/>
<rect x="206.66" y="522.34" width="9.98" height="10.02" fill="#fff4f4"/>
<rect x="216.59" y="522.34" width="9.98" height="10.02" fill="#d0d0ff"/>
<rect x="226.52" y="522.34" width="9.98" height="10.02" fill="#dcdcff"/>
<rect x="236.45" y="522.34" width="9.98" height="10.02" fill="#c0c0ff"/>
<rect x="186.80" y="532.31" width="9.98" height="10.02" fill="#ff0c0c"/>
<rect x="196.73" y="532.31" width="9.98" height="10.02" fill="#ff1a1a"/>
<rect x="206.66" y="532.31" width="9.98" height="10.02" fill="#ff3030"/>
<rect x="216.59" y="532.31" width="9.98" height="10.02" fill="#5a5aff"/>
<rect x="226.52" y="532.31" width="9.98" height="10.02" fill="#4848ff"/>
<rect x="236.45" y="532.31" width="9.98" height="10.02" fill="#5050ff"/>
<path d="M196.73 502.40V542.28M206.66 502.40V542.28M216.59 502.40V542.28M226.52 502.40V542.28M236.45 502.40V542.28M186.80 512.37H246.38M186.80 522.34H246.38M186.80 532.31H246.38" stroke="#7a7a7a" stroke-opacity="0.5" stroke-width="0.7" fill="none"/>
<text x="249.9" y="509.69" font-size="8.1" fill="#151515" textLength="29.79" lengthAdjust="spacingAndGlyphs">CD45RA</text>
<line x1="249.6" y1="512.50" x2="285.7" y2="512.50" stroke="#b4b4b4" stroke-width="1"/>
<text x="249.9" y="519.65" font-size="8.1" fill="#151515" textLength="30.63" lengthAdjust="spacingAndGlyphs">CD45RO</text>
<line x1="249.6" y1="522.50" x2="285.7" y2="522.50" stroke="#b4b4b4" stroke-width="1"/>
<text x="249.9" y="529.62" font-size="8.1" fill="#151515" textLength="19.30" lengthAdjust="spacingAndGlyphs">CD95</text>
<line x1="249.6" y1="532.50" x2="285.7" y2="532.50" stroke="#b4b4b4" stroke-width="1"/>
<text x="249.9" y="539.59" font-size="8.1" fill="#151515" textLength="20.56" lengthAdjust="spacingAndGlyphs">CCR4</text>
<text x="284.3" y="521.3" font-size="8.6" fill="#151515" textLength="9.4" lengthAdjust="spacing">***</text>
<text x="273.5" y="541.1" font-size="8.6" fill="#151515" textLength="9.4" lengthAdjust="spacing">***</text>
<defs><linearGradient id="hg179" x1="0" y1="0" x2="1" y2="0"><stop offset="0" stop-color="#0000ff"/><stop offset="0.5" stop-color="#ffffff"/><stop offset="1" stop-color="#ff0000"/></linearGradient></defs>
<rect x="179.7" y="548.6" width="73.6" height="8" fill="url(#hg179)"/>
<text x="179.70" y="566.5" font-size="7.4" text-anchor="middle" fill="#151515">0.00</text>
<text x="216.50" y="566.5" font-size="7.4" text-anchor="middle" fill="#151515">1.95</text>
<text x="253.30" y="566.5" font-size="7.4" text-anchor="middle" fill="#151515">3.90</text>
<text x="313.2" y="387" font-size="14.2" font-weight="bold" fill="#000">F</text>
<line x1="353.4" y1="393.7" x2="353.4" y2="474.90000000000003" stroke="#000" stroke-width="1.2"/>
<line x1="352.8" y1="474.3" x2="511.4" y2="474.3" stroke="#000" stroke-width="1.2"/>
<line x1="349.6" y1="474.30" x2="353.4" y2="474.30" stroke="#000" stroke-width="1"/>
<text x="346.2" y="476.90" font-size="7.6" text-anchor="end" fill="#151515" textLength="10.4" lengthAdjust="spacingAndGlyphs">0.0</text>
<line x1="349.6" y1="448.20" x2="353.4" y2="448.20" stroke="#000" stroke-width="1"/>
<text x="346.2" y="450.80" font-size="7.6" text-anchor="end" fill="#151515" textLength="10.4" lengthAdjust="spacingAndGlyphs">0.1</text>
<line x1="349.6" y1="422.10" x2="353.4" y2="422.10" stroke="#000" stroke-width="1"/>
<text x="346.2" y="424.70" font-size="7.6" text-anchor="end" fill="#151515" textLength="10.4" lengthAdjust="spacingAndGlyphs">0.2</text>
<line x1="349.6" y1="396.00" x2="353.4" y2="396.00" stroke="#000" stroke-width="1"/>
<text x="346.2" y="398.60" font-size="7.6" text-anchor="end" fill="#151515" textLength="10.4" lengthAdjust="spacingAndGlyphs">0.3</text>
<text transform="translate(330.4,433.7) rotate(-90)" font-size="9.6" text-anchor="middle" fill="#151515" textLength="30" lengthAdjust="spacingAndGlyphs">Clonality</text>
<rect x="376" y="450.3" width="44.9" height="24.00" fill="#a1002b"/>
<rect x="444" y="420.3" width="44.9" height="54.00" fill="#a1002b"/>
<path d="M398.5 450.3V448.6M387 448.6H409.8M466.5 420.3V411.3M455.3 411.3H477.7" stroke="#222" stroke-width="1" fill="none"/>
<path d="M398.5 474.3V477.6M466.5 474.3V477.6" stroke="#000" stroke-width="0.9"/>
<text x="398.5" y="487.80" font-size="7.5" text-anchor="middle" fill="#151515">AA Expanded</text>
<text x="398.5" y="496.80" font-size="7.5" text-anchor="middle" fill="#151515">Treg</text>
<text x="398.5" y="505.80" font-size="7.5" text-anchor="middle" fill="#151515">(Pre-injection)</text>
<text x="466.5" y="487.80" font-size="7.5" text-anchor="middle" fill="#151515">AA Treg from</text>
<text x="466.5" y="496.80" font-size="7.5" text-anchor="middle" fill="#151515">Mouse BM</text>
<text x="466.5" y="505.80" font-size="7.5" text-anchor="middle" fill="#151515">(Post-injection)</text>
<text x="7.9" y="598.5" font-size="14.2" font-weight="bold" fill="#000">G</text>
<polyline points="134.5,634.2 135.9,625.5 138.0,623.5" fill="none" stroke="#13243e" stroke-width="0.8" stroke-linejoin="round" stroke-linecap="round"/>
<text x="141.6" y="625.85" font-size="5.0" text-anchor="start" fill="#111" textLength="21.23" lengthAdjust="spacingAndGlyphs">TCRBV02-01</text>
<polyline points="148.7,638.5 151.5,632.0 159.2,630.6" fill="none" stroke="#7db62e" stroke-width="0.8" stroke-linejoin="round" stroke-linecap="round"/>
<text x="161.2" y="633.05" font-size="5.0" text-anchor="start" fill="#111" textLength="31.35" lengthAdjust="spacingAndGlyphs">TCRBV03-01/03-02</text>
<polyline points="157.3,643.5 160.0,638.8 169.0,637.9" fill="none" stroke="#971410" stroke-width="0.8" stroke-linejoin="round" stroke-linecap="round"/>
<text x="172.3" y="640.25" font-size="5.0" text-anchor="start" fill="#111" textLength="21.23" lengthAdjust="spacingAndGlyphs">TCRBV04-01</text>
<polyline points="160.8,647.2 163.5,644.8 176.5,645.6" fill="none" stroke="#2fa7cb" stroke-width="0.8" stroke-linejoin="round" stroke-linecap="round"/>
<text x="179.4" y="647.55" font-size="5.0" text-anchor="start" fill="#111" textLength="21.23" lengthAdjust="spacingAndGlyphs">TCRBV04-02</text>
<polyline points="163.2,650.3 166.5,647.6 181.5,652.7" fill="none" stroke="#47267f" stroke-width="0.8" stroke-linejoin="round" stroke-linecap="round"/>
<text x="184.6" y="654.85" font-size="5.0" text-anchor="start" fill="#111" textLength="21.23" lengthAdjust="spacingAndGlyphs">TCRBV04-03</text>
<polyline points="171.5,658.0 174.5,656.3 186.2,660.8" fill="none" stroke="#de8536" stroke-width="0.8" stroke-linejoin="round" stroke-linecap="round"/>
<text x="189" y="662.35" font-size="5.0" text-anchor="start" fill="#111" textLength="21.23" lengthAdjust="spacingAndGlyphs">TCRBV05-01</text>
<polyline points="177.6,672.8 181.8,671.0 189.0,667.3" fill="none" stroke="#cb262c" stroke-width="0.8" stroke-linejoin="round" stroke-linecap="round"/>
<text x="192" y="669.65" font-size="5.0" text-anchor="start" fill="#111" textLength="21.23" lengthAdjust="spacingAndGlyphs">TCRBV05-04</text>
<polyline points="178.5,679.5 190.5,675.2" fill="none" stroke="#a0c95a" stroke-width="0.8" stroke-linejoin="round" stroke-linecap="round"/>
<text x="193.5" y="677.35" font-size="5.0" text-anchor="start" fill="#111" textLength="21.23" lengthAdjust="spacingAndGlyphs">TCRBV05-05</text>
<polyline points="178.5,684.5 191.5,682.4" fill="none" stroke="#4073c2" stroke-width="0.8" stroke-linejoin="round" stroke-linecap="round"/>
<text x="194.4" y="684.45" font-size="5.0" text-anchor="start" fill="#111" textLength="21.23" lengthAdjust="spacingAndGlyphs">TCRBV05-06</text>
<polyline points="178.5,689.2 191.0,689.7" fill="none" stroke="#a0c95a" stroke-width="0.8" stroke-linejoin="round" stroke-linecap="round"/>
<text x="194.4" y="691.75" font-size="5.0" text-anchor="start" fill="#111" textLength="21.23" lengthAdjust="spacingAndGlyphs">TCRBV05-08</text>
<polyline points="178.0,694.6 182.5,695.2 190.4,697.7" fill="none" stroke="#971410" stroke-width="0.8" stroke-linejoin="round" stroke-linecap="round"/>
<text x="193.5" y="699.45" font-size="5.0" text-anchor="start" fill="#111" textLength="21.23" lengthAdjust="spacingAndGlyphs">TCRBV06-01</text>
<polyline points="175.0,703.5 177.5,705.8 189.0,704.8" fill="none" stroke="#47267f" stroke-width="0.8" stroke-linejoin="round" stroke-linecap="round"/>
<text x="192" y="706.75" font-size="5.0" text-anchor="start" fill="#111" textLength="31.35" lengthAdjust="spacingAndGlyphs">TCRBV06-02/06-03</text>
<polyline points="168.8,718.5 171.0,721.0 176.0,720.8 185.2,711.9" fill="none" stroke="#86a6db" stroke-width="0.8" stroke-linejoin="round" stroke-linecap="round"/>
<text x="189" y="714.45" font-size="5.0" text-anchor="start" fill="#111" textLength="21.23" lengthAdjust="spacingAndGlyphs">TCRBV06-05</text>
<polyline points="158.3,726.2 162.5,731.0 170.0,730.5 181.5,719.5" fill="none" stroke="#cb262c" stroke-width="0.8" stroke-linejoin="round" stroke-linecap="round"/>
<text x="185.2" y="721.75" font-size="5.0" text-anchor="start" fill="#111" textLength="21.23" lengthAdjust="spacingAndGlyphs">TCRBV06-06</text>
<polyline points="151.5,732.0 153.0,736.2 160.0,736.0 176.5,726.6" fill="none" stroke="#cb262c" stroke-width="0.8" stroke-linejoin="round" stroke-linecap="round"/>
<text x="179.4" y="728.85" font-size="5.0" text-anchor="start" fill="#111" textLength="21.23" lengthAdjust="spacingAndGlyphs">TCRBV07-02</text>
<polyline points="141.0,736.0 142.0,740.6 150.0,740.4 169.5,734.3" fill="none" stroke="#86a6db" stroke-width="0.8" stroke-linejoin="round" stroke-linecap="round"/>
<text x="172.5" y="736.55" font-size="5.0" text-anchor="start" fill="#111" textLength="21.23" lengthAdjust="spacingAndGlyphs">TCRBV07-06</text>
<polyline points="133.0,737.0 133.6,743.0 134.4,748.8" fill="none" stroke="#a0c95a" stroke-width="0.8" stroke-linejoin="round" stroke-linecap="round"/>
<text x="139.2" y="750.25" font-size="5.0" text-anchor="start" fill="#111" textLength="21.23" lengthAdjust="spacingAndGlyphs">TCRBV07-08</text>
<polyline points="119.0,737.3 118.5,745.0 117.1,748.0 115.8,748.3" fill="none" stroke="#4073c2" stroke-width="0.8" stroke-linejoin="round" stroke-linecap="round"/>
<text x="107.5" y="750.25" font-size="5.0" text-anchor="end" fill="#111" textLength="21.23" lengthAdjust="spacingAndGlyphs">TCRBV07-09</text>
<polyline points="85.0,733.8 100.0,736.9 102.5,736.0 104.6,733.5" fill="none" stroke="#13243e" stroke-width="0.8" stroke-linejoin="round" stroke-linecap="round"/>
<text x="76.8" y="736.05" font-size="5.0" text-anchor="end" fill="#111" textLength="21.23" lengthAdjust="spacingAndGlyphs">TCRBV09-01</text>
<polyline points="78.0,726.6 82.7,729.2 90.4,729.2 92.7,726.6" fill="none" stroke="#2fa7cb" stroke-width="0.8" stroke-linejoin="round" stroke-linecap="round"/>
<text x="69.6" y="729.15" font-size="5.0" text-anchor="end" fill="#111" textLength="21.23" lengthAdjust="spacingAndGlyphs">TCRBV10-03</text>
<polyline points="72.2,719.2 76.5,722.3 85.0,722.3 87.3,720.0" fill="none" stroke="#86a6db" stroke-width="0.8" stroke-linejoin="round" stroke-linecap="round"/>
<text x="63.9" y="721.75" font-size="5.0" text-anchor="end" fill="#111" textLength="21.23" lengthAdjust="spacingAndGlyphs">TCRBV11-03</text>
<polyline points="68.1,711.5 74.2,714.6 81.2,716.2 84.2,713.8" fill="none" stroke="#4073c2" stroke-width="0.8" stroke-linejoin="round" stroke-linecap="round"/>
<text x="54.7" y="714.05" font-size="5.0" text-anchor="end" fill="#111" textLength="31.35" lengthAdjust="spacingAndGlyphs">TCRBV12-03/12-04</text>
<polyline points="65.0,704.6 68.8,706.9 78.0,706.2" fill="none" stroke="#971410" stroke-width="0.8" stroke-linejoin="round" stroke-linecap="round"/>
<text x="56.8" y="706.85" font-size="5.0" text-anchor="end" fill="#111" textLength="21.23" lengthAdjust="spacingAndGlyphs">TCRBV14-01</text>
<polyline points="63.5,696.9 67.3,700.0 76.5,700.8" fill="none" stroke="#2fa7cb" stroke-width="0.8" stroke-linejoin="round" stroke-linecap="round"/>
<text x="55.3" y="699.45" font-size="5.0" text-anchor="end" fill="#111" textLength="21.23" lengthAdjust="spacingAndGlyphs">TCRBV15-01</text>
<polyline points="63.0,689.2 67.3,692.3 75.8,692.3" fill="none" stroke="#de8536" stroke-width="0.8" stroke-linejoin="round" stroke-linecap="round"/>
<text x="54.2" y="692.05" font-size="5.0" text-anchor="end" fill="#111" textLength="21.23" lengthAdjust="spacingAndGlyphs">TCRBV18-01</text>
<polyline points="62.4,682.0 66.5,676.2 70.4,671.0 77.0,669.5" fill="none" stroke="#86a6db" stroke-width="0.8" stroke-linejoin="round" stroke-linecap="round"/>
<text x="54.2" y="684.85" font-size="5.0" text-anchor="end" fill="#111" textLength="21.23" lengthAdjust="spacingAndGlyphs">TCRBV19-01</text>
<polyline points="63.5,674.6 67.7,666.2 72.3,659.2 81.5,652.3 86.5,654.0" fill="none" stroke="#cb262c" stroke-width="0.8" stroke-linejoin="round" stroke-linecap="round"/>
<text x="55.1" y="676.85" font-size="5.0" text-anchor="end" fill="#111" textLength="21.23" lengthAdjust="spacingAndGlyphs">TCRBV20-01</text>
<polyline points="66.2,666.2 72.0,659.0 83.0,650.0 88.0,651.5" fill="none" stroke="#7db62e" stroke-width="0.8" stroke-linejoin="round" stroke-linecap="round"/>
<text x="56.9" y="670.25" font-size="5.0" text-anchor="end" fill="#111" textLength="21.23" lengthAdjust="spacingAndGlyphs">TCRBV21-01</text>
<polyline points="68.5,660.3 74.6,653.0 86.2,646.2 90.5,649.2" fill="none" stroke="#13243e" stroke-width="0.8" stroke-linejoin="round" stroke-linecap="round"/>
<text x="60" y="662.85" font-size="5.0" text-anchor="end" fill="#111" textLength="21.23" lengthAdjust="spacingAndGlyphs">TCRBV24-01</text>
<polyline points="72.3,652.6 77.0,649.2 90.8,643.1 93.8,646.9" fill="none" stroke="#a0c95a" stroke-width="0.8" stroke-linejoin="round" stroke-linecap="round"/>
<text x="63" y="654.85" font-size="5.0" text-anchor="end" fill="#111" textLength="21.23" lengthAdjust="spacingAndGlyphs">TCRBV25-01</text>
<polyline points="77.2,645.4 92.3,639.2 97.0,643.3" fill="none" stroke="#971410" stroke-width="0.8" stroke-linejoin="round" stroke-linecap="round"/>
<text x="68.9" y="647.95" font-size="5.0" text-anchor="end" fill="#111" textLength="21.23" lengthAdjust="spacingAndGlyphs">TCRBV27-01</text>
<polyline points="85.4,637.6 100.2,636.2 102.2,640.3" fill="none" stroke="#2fa7cb" stroke-width="0.8" stroke-linejoin="round" stroke-linecap="round"/>
<text x="76.5" y="640.55" font-size="5.0" text-anchor="end" fill="#111" textLength="21.23" lengthAdjust="spacingAndGlyphs">TCRBV28-01</text>
<polyline points="96.2,630.2 104.2,631.5 107.6,636.9" fill="none" stroke="#47267f" stroke-width="0.8" stroke-linejoin="round" stroke-linecap="round"/>
<text x="87.2" y="632.95" font-size="5.0" text-anchor="end" fill="#111" textLength="21.23" lengthAdjust="spacingAndGlyphs">TCRBV29-01</text>
<polyline points="117.0,623.0 119.0,625.5 119.7,634.2" fill="none" stroke="#de8536" stroke-width="0.8" stroke-linejoin="round" stroke-linecap="round"/>
<text x="108" y="625.85" font-size="5.0" text-anchor="end" fill="#111" textLength="21.23" lengthAdjust="spacingAndGlyphs">TCRBV30-01</text>
<path d="M127.30 684.70L127.30 633.70A51 51 0 0 1 142.04 635.88Z" fill="#13243e" stroke="#fff" stroke-width="0.45" stroke-linejoin="bevel"/>
<path d="M127.30 684.70L142.04 635.88A51 51 0 0 1 155.89 642.47Z" fill="#7db62e" stroke="#fff" stroke-width="0.45" stroke-linejoin="bevel"/>
<path d="M127.30 684.70L155.89 642.47A51 51 0 0 1 158.42 644.29Z" fill="#971410" stroke="#fff" stroke-width="0.45" stroke-linejoin="bevel"/>
<path d="M127.30 684.70L158.42 644.29A51 51 0 0 1 162.02 647.34Z" fill="#2fa7cb" stroke="#fff" stroke-width="0.45" stroke-linejoin="bevel"/>
<path d="M127.30 684.70L162.02 647.34A51 51 0 0 1 164.05 649.34Z" fill="#47267f" stroke="#fff" stroke-width="0.45" stroke-linejoin="bevel"/>
<path d="M127.30 684.70L164.05 649.34A51 51 0 0 1 175.75 668.77Z" fill="#de8536" stroke="#fff" stroke-width="0.45" stroke-linejoin="bevel"/>
<path d="M127.30 684.70L175.75 668.77A51 51 0 0 1 177.91 678.40Z" fill="#cb262c" stroke="#fff" stroke-width="0.45" stroke-linejoin="bevel"/>
<path d="M127.30 684.70L177.91 678.40A51 51 0 0 1 178.19 681.41Z" fill="#a0c95a" stroke="#fff" stroke-width="0.45" stroke-linejoin="bevel"/>
<path d="M127.30 684.70L178.19 681.41A51 51 0 0 1 178.27 686.39Z" fill="#4073c2" stroke="#fff" stroke-width="0.45" stroke-linejoin="bevel"/>
<path d="M127.30 684.70L178.27 686.39A51 51 0 0 1 178.07 689.50Z" fill="#7db62e" stroke="#fff" stroke-width="0.45" stroke-linejoin="bevel"/>
<path d="M127.30 684.70L178.07 689.50A51 51 0 0 1 176.76 697.12Z" fill="#971410" stroke="#fff" stroke-width="0.45" stroke-linejoin="bevel"/>
<path d="M127.30 684.70L176.76 697.12A51 51 0 0 1 176.07 699.61Z" fill="#2fa7cb" stroke="#fff" stroke-width="0.45" stroke-linejoin="bevel"/>
<path d="M127.30 684.70L176.07 699.61A51 51 0 0 1 173.93 705.36Z" fill="#47267f" stroke="#fff" stroke-width="0.45" stroke-linejoin="bevel"/>
<path d="M127.30 684.70L173.93 705.36A51 51 0 0 1 172.74 707.85Z" fill="#de8536" stroke="#fff" stroke-width="0.45" stroke-linejoin="bevel"/>
<path d="M127.30 684.70L172.74 707.85A51 51 0 0 1 159.95 723.88Z" fill="#86a6db" stroke="#fff" stroke-width="0.45" stroke-linejoin="bevel"/>
<path d="M127.30 684.70L159.95 723.88A51 51 0 0 1 159.40 724.33Z" fill="#ffffff" stroke="#fff" stroke-width="0.45" stroke-linejoin="bevel"/>
<path d="M127.30 684.70L159.40 724.33A51 51 0 0 1 158.28 725.22Z" fill="#cb262c" stroke="#fff" stroke-width="0.45" stroke-linejoin="bevel"/>
<path d="M127.30 684.70L158.28 725.22A51 51 0 0 1 157.28 725.96Z" fill="#ffffff" stroke="#fff" stroke-width="0.45" stroke-linejoin="bevel"/>
<path d="M127.30 684.70L157.28 725.96A51 51 0 0 1 143.48 733.06Z" fill="#971410" stroke="#fff" stroke-width="0.45" stroke-linejoin="bevel"/>
<path d="M127.30 684.70L143.48 733.06A51 51 0 0 1 141.78 733.60Z" fill="#2fa7cb" stroke="#fff" stroke-width="0.45" stroke-linejoin="bevel"/>
<path d="M127.30 684.70L141.78 733.60A51 51 0 0 1 137.90 734.59Z" fill="#86a6db" stroke="#fff" stroke-width="0.45" stroke-linejoin="bevel"/>
<path d="M127.30 684.70L137.90 734.59A51 51 0 0 1 136.59 734.85Z" fill="#ffffff" stroke="#fff" stroke-width="0.45" stroke-linejoin="bevel"/>
<path d="M127.30 684.70L136.59 734.85A51 51 0 0 1 128.46 735.69Z" fill="#a0c95a" stroke="#fff" stroke-width="0.45" stroke-linejoin="bevel"/>
<path d="M127.30 684.70L128.46 735.69A51 51 0 0 1 110.11 732.71Z" fill="#4073c2" stroke="#fff" stroke-width="0.45" stroke-linejoin="bevel"/>
<path d="M127.30 684.70L110.11 732.71A51 51 0 0 1 102.42 729.22Z" fill="#13243e" stroke="#fff" stroke-width="0.45" stroke-linejoin="bevel"/>
<path d="M127.30 684.70L102.42 729.22A51 51 0 0 1 100.58 728.14Z" fill="#a0c95a" stroke="#fff" stroke-width="0.45" stroke-linejoin="bevel"/>
<path d="M127.30 684.70L100.58 728.14A51 51 0 0 1 98.56 726.83Z" fill="#cb262c" stroke="#fff" stroke-width="0.45" stroke-linejoin="bevel"/>
<path d="M127.30 684.70L98.56 726.83A51 51 0 0 1 92.45 721.94Z" fill="#2fa7cb" stroke="#fff" stroke-width="0.45" stroke-linejoin="bevel"/>
<path d="M127.30 684.70L92.45 721.94A51 51 0 0 1 91.74 721.26Z" fill="#f4b6b6" stroke="#fff" stroke-width="0.45" stroke-linejoin="bevel"/>
<path d="M127.30 684.70L91.74 721.26A51 51 0 0 1 88.58 717.89Z" fill="#86a6db" stroke="#fff" stroke-width="0.45" stroke-linejoin="bevel"/>
<path d="M127.30 684.70L88.58 717.89A51 51 0 0 1 87.95 717.14Z" fill="#ffffff" stroke="#fff" stroke-width="0.45" stroke-linejoin="bevel"/>
<path d="M127.30 684.70L87.95 717.14A51 51 0 0 1 83.68 711.12Z" fill="#4073c2" stroke="#fff" stroke-width="0.45" stroke-linejoin="bevel"/>
<path d="M127.30 684.70L83.68 711.12A51 51 0 0 1 82.87 709.74Z" fill="#13243e" stroke="#fff" stroke-width="0.45" stroke-linejoin="bevel"/>
<path d="M127.30 684.70L82.87 709.74A51 51 0 0 1 81.86 707.85Z" fill="#a0c95a" stroke="#fff" stroke-width="0.45" stroke-linejoin="bevel"/>
<path d="M127.30 684.70L81.86 707.85A51 51 0 0 1 80.22 704.30Z" fill="#971410" stroke="#fff" stroke-width="0.45" stroke-linejoin="bevel"/>
<path d="M127.30 684.70L80.22 704.30A51 51 0 0 1 78.28 698.76Z" fill="#2fa7cb" stroke="#fff" stroke-width="0.45" stroke-linejoin="bevel"/>
<path d="M127.30 684.70L78.28 698.76A51 51 0 0 1 76.32 686.21Z" fill="#de8536" stroke="#fff" stroke-width="0.45" stroke-linejoin="bevel"/>
<path d="M127.30 684.70L76.32 686.21A51 51 0 0 1 84.05 657.67Z" fill="#86a6db" stroke="#fff" stroke-width="0.45" stroke-linejoin="bevel"/>
<path d="M127.30 684.70L84.05 657.67A51 51 0 0 1 85.52 655.45Z" fill="#ffffff" stroke="#fff" stroke-width="0.45" stroke-linejoin="bevel"/>
<path d="M127.30 684.70L85.52 655.45A51 51 0 0 1 86.57 654.01Z" fill="#cb262c" stroke="#fff" stroke-width="0.45" stroke-linejoin="bevel"/>
<path d="M127.30 684.70L86.57 654.01A51 51 0 0 1 87.50 652.81Z" fill="#ffffff" stroke="#fff" stroke-width="0.45" stroke-linejoin="bevel"/>
<path d="M127.30 684.70L87.50 652.81A51 51 0 0 1 89.22 650.77Z" fill="#a0c95a" stroke="#fff" stroke-width="0.45" stroke-linejoin="bevel"/>
<path d="M127.30 684.70L89.22 650.77A51 51 0 0 1 90.00 649.92Z" fill="#ffffff" stroke="#fff" stroke-width="0.45" stroke-linejoin="bevel"/>
<path d="M127.30 684.70L90.00 649.92A51 51 0 0 1 92.78 647.16Z" fill="#13243e" stroke="#fff" stroke-width="0.45" stroke-linejoin="bevel"/>
<path d="M127.30 684.70L92.78 647.16A51 51 0 0 1 94.59 645.57Z" fill="#a0c95a" stroke="#fff" stroke-width="0.45" stroke-linejoin="bevel"/>
<path d="M127.30 684.70L94.59 645.57A51 51 0 0 1 99.67 641.83Z" fill="#971410" stroke="#fff" stroke-width="0.45" stroke-linejoin="bevel"/>
<path d="M127.30 684.70L99.67 641.83A51 51 0 0 1 103.44 639.63Z" fill="#2fa7cb" stroke="#fff" stroke-width="0.45" stroke-linejoin="bevel"/>
<path d="M127.30 684.70L103.44 639.63A51 51 0 0 1 112.64 635.85Z" fill="#47267f" stroke="#fff" stroke-width="0.45" stroke-linejoin="bevel"/>
<path d="M127.30 684.70L112.64 635.85A51 51 0 0 1 127.30 633.70Z" fill="#de8536" stroke="#fff" stroke-width="0.45" stroke-linejoin="bevel"/>
<polyline points="353.7,633.6 354.0,624.0 356.0,622.2" fill="none" stroke="#4073c2" stroke-width="0.8" stroke-linejoin="round" stroke-linecap="round"/>
<text x="357.7" y="624.45" font-size="5.0" text-anchor="start" fill="#111" textLength="21.23" lengthAdjust="spacingAndGlyphs">TCRBV01-01</text>
<polyline points="351.0,633.6 350.5,624.0 348.5,622.2 343.0,622.2" fill="none" stroke="#47267f" stroke-width="0.8" stroke-linejoin="round" stroke-linecap="round"/>
<text x="340.8" y="624.85" font-size="5.0" text-anchor="end" fill="#111" textLength="21.23" lengthAdjust="spacingAndGlyphs">TCRBV30-01</text>
<polyline points="358.5,634.0 359.5,629.2 362.0,628.5 384.5,629.5" fill="none" stroke="#13243e" stroke-width="0.8" stroke-linejoin="round" stroke-linecap="round"/>
<text x="386.5" y="632.05" font-size="5.0" text-anchor="start" fill="#111" textLength="31.35" lengthAdjust="spacingAndGlyphs">TCRBV03-01/03-02</text>
<polyline points="367.5,636.0 369.0,631.2 371.5,630.6 396.5,636.5" fill="none" stroke="#7db62e" stroke-width="0.8" stroke-linejoin="round" stroke-linecap="round"/>
<text x="398.8" y="638.95" font-size="5.0" text-anchor="start" fill="#111" textLength="21.23" lengthAdjust="spacingAndGlyphs">TCRBV04-01</text>
<polyline points="379.0,641.0 381.0,637.2 384.0,636.6 404.0,643.5" fill="none" stroke="#971410" stroke-width="0.8" stroke-linejoin="round" stroke-linecap="round"/>
<text x="406.2" y="646.35" font-size="5.0" text-anchor="start" fill="#111" textLength="21.23" lengthAdjust="spacingAndGlyphs">TCRBV04-03</text>
<polyline points="401.5,662.0 413.0,655.8" fill="none" stroke="#2fa7cb" stroke-width="0.8" stroke-linejoin="round" stroke-linecap="round"/>
<text x="415" y="657.95" font-size="5.0" text-anchor="start" fill="#111" textLength="21.23" lengthAdjust="spacingAndGlyphs">TCRBV05-01</text>
<polyline points="408.5,680.2 420.4,678.3" fill="none" stroke="#47267f" stroke-width="0.8" stroke-linejoin="round" stroke-linecap="round"/>
<text x="423.5" y="680.45" font-size="5.0" text-anchor="start" fill="#111" textLength="21.23" lengthAdjust="spacingAndGlyphs">TCRBV05-04</text>
<polyline points="409.4,691.7 421.5,691.7" fill="none" stroke="#de8536" stroke-width="0.8" stroke-linejoin="round" stroke-linecap="round"/>
<text x="424.8" y="693.45" font-size="5.0" text-anchor="start" fill="#111" textLength="21.23" lengthAdjust="spacingAndGlyphs">TCRBV05-06</text>
<polyline points="407.5,704.2 419.6,706.7" fill="none" stroke="#86a6db" stroke-width="0.8" stroke-linejoin="round" stroke-linecap="round"/>
<text x="422.9" y="708.45" font-size="5.0" text-anchor="start" fill="#111" textLength="21.23" lengthAdjust="spacingAndGlyphs">TCRBV06-01</text>
<polyline points="405.6,707.2 410.5,709.0 416.5,716.7" fill="none" stroke="#cb262c" stroke-width="0.8" stroke-linejoin="round" stroke-linecap="round"/>
<text x="419.6" y="718.45" font-size="5.0" text-anchor="start" fill="#111" textLength="21.23" lengthAdjust="spacingAndGlyphs">TCRBV06-04</text>
<polyline points="405.3,709.6 409.5,711.5 412.7,723.5" fill="none" stroke="#a0c95a" stroke-width="0.8" stroke-linejoin="round" stroke-linecap="round"/>
<text x="415.8" y="725.75" font-size="5.0" text-anchor="start" fill="#111" textLength="21.23" lengthAdjust="spacingAndGlyphs">TCRBV06-06</text>
<polyline points="402.7,717.7 406.5,720.5 408.5,730.8" fill="none" stroke="#4073c2" stroke-width="0.8" stroke-linejoin="round" stroke-linecap="round"/>
<text x="411.3" y="733.25" font-size="5.0" text-anchor="start" fill="#111" textLength="21.23" lengthAdjust="spacingAndGlyphs">TCRBV07-02</text>
<polyline points="396.9,730.7 400.0,733.5 402.5,738.1" fill="none" stroke="#13243e" stroke-width="0.8" stroke-linejoin="round" stroke-linecap="round"/>
<text x="405.7" y="739.85" font-size="5.0" text-anchor="start" fill="#111" textLength="21.23" lengthAdjust="spacingAndGlyphs">TCRBV07-08</text>
<polyline points="371.5,745.0 374.0,748.5 376.2,755.4" fill="none" stroke="#7db62e" stroke-width="0.8" stroke-linejoin="round" stroke-linecap="round"/>
<text x="379.6" y="757.15" font-size="5.0" text-anchor="start" fill="#111" textLength="21.23" lengthAdjust="spacingAndGlyphs">TCRBV07-09</text>
<polyline points="332.3,745.0 330.0,750.0 328.8,754.7 322.5,755.4" fill="none" stroke="#971410" stroke-width="0.8" stroke-linejoin="round" stroke-linecap="round"/>
<text x="319.6" y="757.15" font-size="5.0" text-anchor="end" fill="#111" textLength="21.23" lengthAdjust="spacingAndGlyphs">TCRBV09-01</text>
<polyline points="306.3,727.1 297.7,732.9" fill="none" stroke="#2fa7cb" stroke-width="0.8" stroke-linejoin="round" stroke-linecap="round"/>
<text x="289" y="735.55" font-size="5.0" text-anchor="end" fill="#111" textLength="21.23" lengthAdjust="spacingAndGlyphs">TCRBV10-03</text>
<polyline points="297.0,708.0 290.4,709.8 287.1,716.5" fill="none" stroke="#47267f" stroke-width="0.8" stroke-linejoin="round" stroke-linecap="round"/>
<text x="273.7" y="718.25" font-size="5.0" text-anchor="end" fill="#111" textLength="31.35" lengthAdjust="spacingAndGlyphs">TCRBV12-03/12-04</text>
<polyline points="295.8,702.2 290.4,702.7 284.6,709.2" fill="none" stroke="#de8536" stroke-width="0.8" stroke-linejoin="round" stroke-linecap="round"/>
<text x="276" y="711.55" font-size="5.0" text-anchor="end" fill="#111" textLength="21.23" lengthAdjust="spacingAndGlyphs">TCRBV13-01</text>
<polyline points="295.8,699.5 282.7,700.8" fill="none" stroke="#86a6db" stroke-width="0.8" stroke-linejoin="round" stroke-linecap="round"/>
<text x="274.2" y="702.95" font-size="5.0" text-anchor="end" fill="#111" textLength="21.23" lengthAdjust="spacingAndGlyphs">TCRBV16-01</text>
<polyline points="296.2,675.6 284.2,672.7" fill="none" stroke="#cb262c" stroke-width="0.8" stroke-linejoin="round" stroke-linecap="round"/>
<text x="276" y="675.45" font-size="5.0" text-anchor="end" fill="#111" textLength="21.23" lengthAdjust="spacingAndGlyphs">TCRBV18-01</text>
<polyline points="313.1,648.2 307.7,645.1 286.9,665.5" fill="none" stroke="#a0c95a" stroke-width="0.8" stroke-linejoin="round" stroke-linecap="round"/>
<text x="278.5" y="668.25" font-size="5.0" text-anchor="end" fill="#111" textLength="21.23" lengthAdjust="spacingAndGlyphs">TCRBV19-01</text>
<polyline points="319.5,642.0 317.7,639.7 290.0,658.2" fill="none" stroke="#86a6db" stroke-width="0.8" stroke-linejoin="round" stroke-linecap="round"/>
<text x="281.7" y="660.95" font-size="5.0" text-anchor="end" fill="#111" textLength="21.23" lengthAdjust="spacingAndGlyphs">TCRBV21-01</text>
<polyline points="320.5,641.5 318.5,640.5 316.9,638.5 294.6,651.7" fill="none" stroke="#13243e" stroke-width="0.8" stroke-linejoin="round" stroke-linecap="round"/>
<text x="285.8" y="653.25" font-size="5.0" text-anchor="end" fill="#111" textLength="21.23" lengthAdjust="spacingAndGlyphs">TCRBV22-01</text>
<polyline points="325.4,639.7 322.3,635.1 300.8,644.6" fill="none" stroke="#7db62e" stroke-width="0.8" stroke-linejoin="round" stroke-linecap="round"/>
<text x="292" y="646.55" font-size="5.0" text-anchor="end" fill="#111" textLength="21.23" lengthAdjust="spacingAndGlyphs">TCRBV25-01</text>
<polyline points="330.8,636.6 328.9,632.3 307.7,635.8" fill="none" stroke="#971410" stroke-width="0.8" stroke-linejoin="round" stroke-linecap="round"/>
<text x="299.7" y="638.85" font-size="5.0" text-anchor="end" fill="#111" textLength="21.23" lengthAdjust="spacingAndGlyphs">TCRBV28-01</text>
<polyline points="342.3,633.5 340.8,629.4 319.7,629.4" fill="none" stroke="#2fa7cb" stroke-width="0.8" stroke-linejoin="round" stroke-linecap="round"/>
<text x="310.8" y="632.25" font-size="5.0" text-anchor="end" fill="#111" textLength="21.23" lengthAdjust="spacingAndGlyphs">TCRBV29-01</text>
<path d="M351.80 690.60L351.80 633.60A57 57 0 0 1 352.30 633.60Z" fill="#ffffff" stroke="#fff" stroke-width="0.45" stroke-linejoin="bevel"/>
<path d="M351.80 690.60L352.30 633.60A57 57 0 0 1 354.19 633.65Z" fill="#4073c2" stroke="#fff" stroke-width="0.45" stroke-linejoin="bevel"/>
<path d="M351.80 690.60L354.19 633.65A57 57 0 0 1 354.98 633.69Z" fill="#ffffff" stroke="#fff" stroke-width="0.45" stroke-linejoin="bevel"/>
<path d="M351.80 690.60L354.98 633.69A57 57 0 0 1 364.23 634.97Z" fill="#13243e" stroke="#fff" stroke-width="0.45" stroke-linejoin="bevel"/>
<path d="M351.80 690.60L364.23 634.97A57 57 0 0 1 370.45 636.74Z" fill="#7db62e" stroke="#fff" stroke-width="0.45" stroke-linejoin="bevel"/>
<path d="M351.80 690.60L370.45 636.74A57 57 0 0 1 387.83 646.43Z" fill="#971410" stroke="#fff" stroke-width="0.45" stroke-linejoin="bevel"/>
<path d="M351.80 690.60L387.83 646.43A57 57 0 0 1 407.71 679.53Z" fill="#2fa7cb" stroke="#fff" stroke-width="0.45" stroke-linejoin="bevel"/>
<path d="M351.80 690.60L407.71 679.53A57 57 0 0 1 408.03 681.29Z" fill="#8a70b8" stroke="#fff" stroke-width="0.45" stroke-linejoin="bevel"/>
<path d="M351.80 690.60L408.03 681.29A57 57 0 0 1 407.70 701.77Z" fill="#de8536" stroke="#fff" stroke-width="0.45" stroke-linejoin="bevel"/>
<path d="M351.80 690.60L407.70 701.77A57 57 0 0 1 406.62 706.22Z" fill="#86a6db" stroke="#fff" stroke-width="0.45" stroke-linejoin="bevel"/>
<path d="M351.80 690.60L406.62 706.22A57 57 0 0 1 405.79 708.87Z" fill="#cb262c" stroke="#fff" stroke-width="0.45" stroke-linejoin="bevel"/>
<path d="M351.80 690.60L405.79 708.87A57 57 0 0 1 405.50 709.72Z" fill="#a0c95a" stroke="#fff" stroke-width="0.45" stroke-linejoin="bevel"/>
<path d="M351.80 690.60L405.50 709.72A57 57 0 0 1 405.05 710.93Z" fill="#ffffff" stroke="#fff" stroke-width="0.45" stroke-linejoin="bevel"/>
<path d="M351.80 690.60L405.05 710.93A57 57 0 0 1 397.74 724.34Z" fill="#4073c2" stroke="#fff" stroke-width="0.45" stroke-linejoin="bevel"/>
<path d="M351.80 690.60L397.74 724.34A57 57 0 0 1 390.24 732.69Z" fill="#13243e" stroke="#fff" stroke-width="0.45" stroke-linejoin="bevel"/>
<path d="M351.80 690.60L390.24 732.69A57 57 0 0 1 348.42 747.50Z" fill="#7db62e" stroke="#fff" stroke-width="0.45" stroke-linejoin="bevel"/>
<path d="M351.80 690.60L348.42 747.50A57 57 0 0 1 319.51 737.58Z" fill="#971410" stroke="#fff" stroke-width="0.45" stroke-linejoin="bevel"/>
<path d="M351.80 690.60L319.51 737.58A57 57 0 0 1 299.14 712.41Z" fill="#2fa7cb" stroke="#fff" stroke-width="0.45" stroke-linejoin="bevel"/>
<path d="M351.80 690.60L299.14 712.41A57 57 0 0 1 296.11 702.74Z" fill="#47267f" stroke="#fff" stroke-width="0.45" stroke-linejoin="bevel"/>
<path d="M351.80 690.60L296.11 702.74A57 57 0 0 1 295.58 700.01Z" fill="#de8536" stroke="#fff" stroke-width="0.45" stroke-linejoin="bevel"/>
<path d="M351.80 690.60L295.58 700.01A57 57 0 0 1 295.30 698.14Z" fill="#86a6db" stroke="#fff" stroke-width="0.45" stroke-linejoin="bevel"/>
<path d="M351.80 690.60L295.30 698.14A57 57 0 0 1 307.88 654.27Z" fill="#cb262c" stroke="#fff" stroke-width="0.45" stroke-linejoin="bevel"/>
<path d="M351.80 690.60L307.88 654.27A57 57 0 0 1 319.27 643.79Z" fill="#a0c95a" stroke="#fff" stroke-width="0.45" stroke-linejoin="bevel"/>
<path d="M351.80 690.60L319.27 643.79A57 57 0 0 1 320.42 643.01Z" fill="#86a6db" stroke="#fff" stroke-width="0.45" stroke-linejoin="bevel"/>
<path d="M351.80 690.60L320.42 643.01A57 57 0 0 1 320.84 642.74Z" fill="#13243e" stroke="#fff" stroke-width="0.45" stroke-linejoin="bevel"/>
<path d="M351.80 690.60L320.84 642.74A57 57 0 0 1 321.68 642.21Z" fill="#ffffff" stroke="#fff" stroke-width="0.45" stroke-linejoin="bevel"/>
<path d="M351.80 690.60L321.68 642.21A57 57 0 0 1 329.99 637.94Z" fill="#7db62e" stroke="#fff" stroke-width="0.45" stroke-linejoin="bevel"/>
<path d="M351.80 690.60L329.99 637.94A57 57 0 0 1 334.09 636.42Z" fill="#971410" stroke="#fff" stroke-width="0.45" stroke-linejoin="bevel"/>
<path d="M351.80 690.60L334.09 636.42A57 57 0 0 1 334.94 636.15Z" fill="#ffffff" stroke="#fff" stroke-width="0.45" stroke-linejoin="bevel"/>
<path d="M351.80 690.60L334.94 636.15A57 57 0 0 1 350.41 633.62Z" fill="#2fa7cb" stroke="#fff" stroke-width="0.45" stroke-linejoin="bevel"/>
<path d="M351.80 690.60L350.41 633.62A57 57 0 0 1 351.20 633.60Z" fill="#ffffff" stroke="#fff" stroke-width="0.45" stroke-linejoin="bevel"/>
<path d="M351.80 690.60L351.20 633.60A57 57 0 0 1 351.80 633.60Z" fill="#8a70b8" stroke="#fff" stroke-width="0.45" stroke-linejoin="bevel"/>
<text x="126" y="601.4" font-size="7.9" text-anchor="middle" fill="#151515">AA Expanded Treg</text>
<text x="126" y="609.7" font-size="7.9" text-anchor="middle" fill="#151515">(Pre-injection)</text>
<text x="344.6" y="600.9" font-size="7.9" text-anchor="middle" fill="#151515">AA Treg from Mouse BM</text>
<text x="346" y="610.1" font-size="7.9" text-anchor="middle" fill="#151515">(Post-injection)</text>
</svg></body></html>
